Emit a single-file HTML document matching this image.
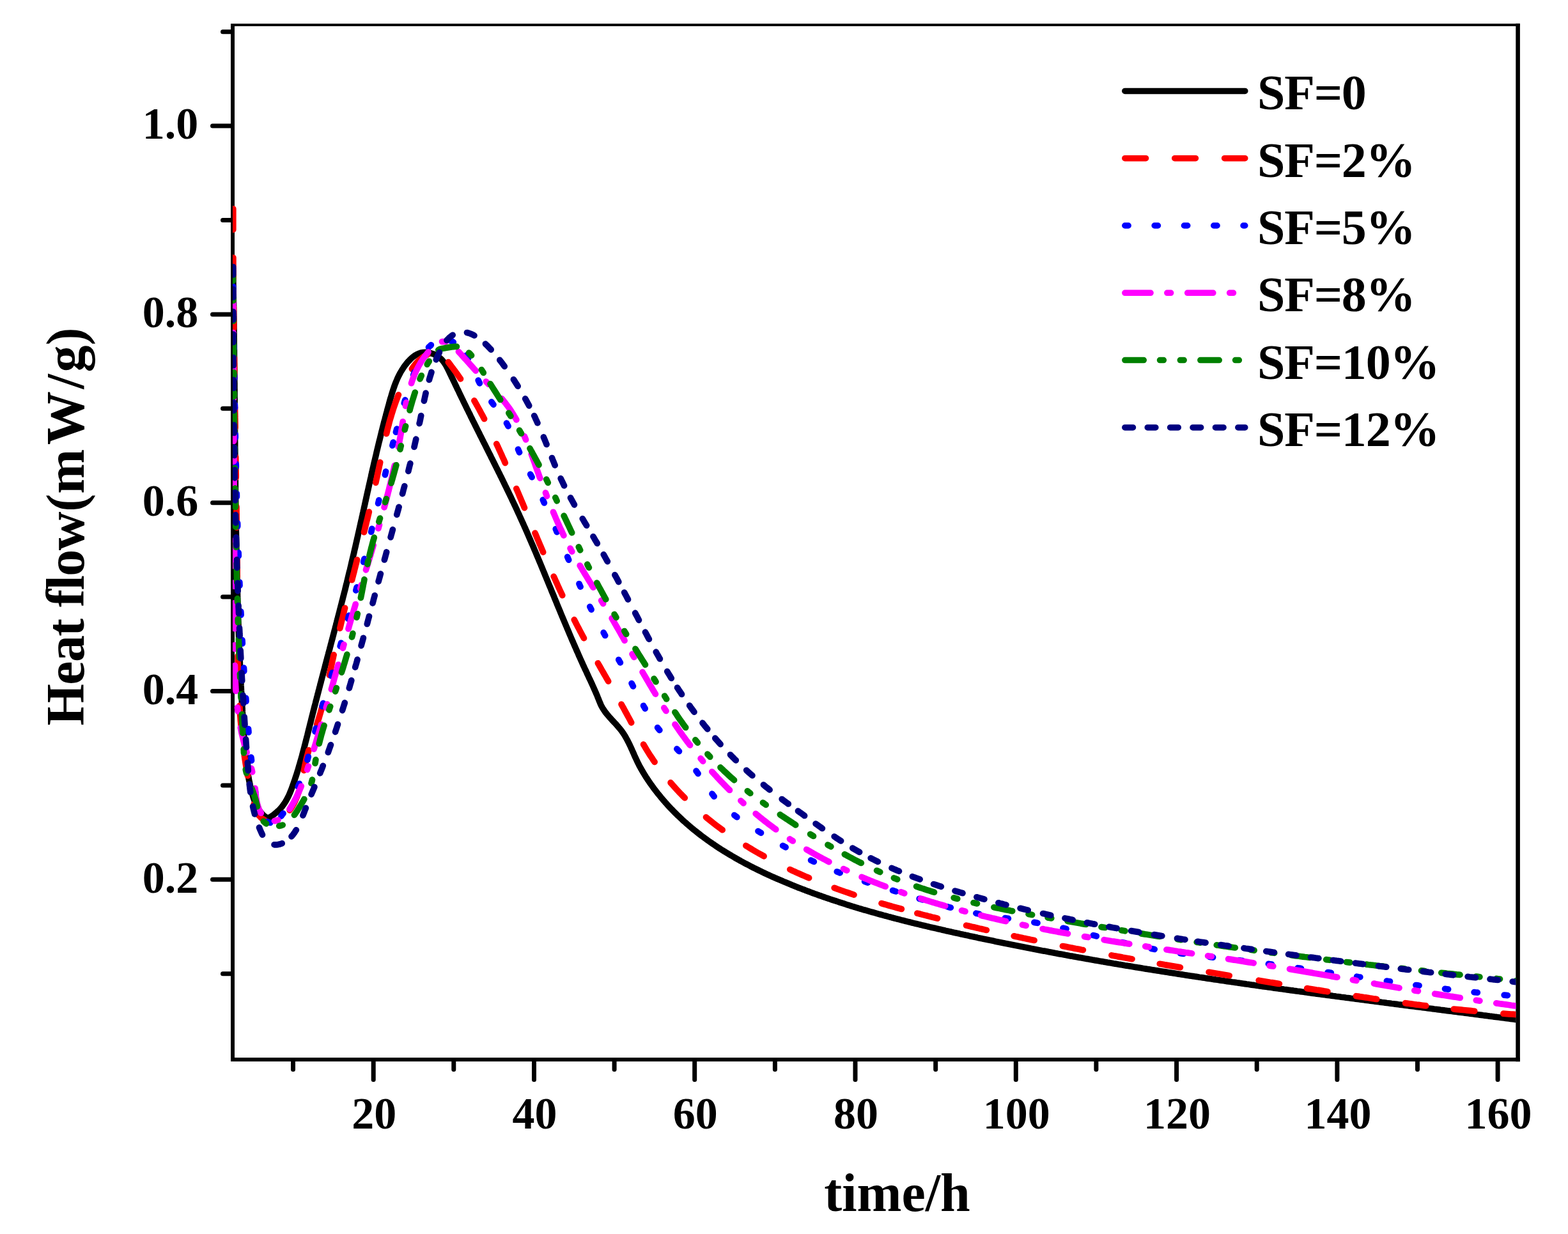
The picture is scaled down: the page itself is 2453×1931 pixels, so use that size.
<!DOCTYPE html>
<html lang="en"><head><meta charset="utf-8"><title>Heat flow vs time</title>
<style>html,body{margin:0;padding:0;background:#fff;overflow:hidden}svg{display:block}</style></head>
<body>
<svg width="2453" height="1931" viewBox="0 0 2453 1931" role="img" aria-label="Heat flow versus time for SF contents 0 to 12 percent">
<rect width="2453" height="1931" fill="#fff"/>
<g stroke="#000" stroke-width="6" fill="none" stroke-linecap="square">
<line x1="364.0" y1="40.0" x2="364.0" y2="1658.0"/>
<line x1="2374.6" y1="40.0" x2="2374.6" y2="1658.0" stroke-width="6.6"/>
<line x1="364.0" y1="1658.0" x2="2374.7" y2="1658.0"/>
</g>
<line x1="361.0" y1="39.0" x2="2377.7" y2="39.0" stroke="#000" stroke-width="4"/>
<g stroke="#000" stroke-width="7" stroke-linecap="round">
<line x1="458.5" y1="1660.0" x2="458.5" y2="1673.5"/>
<line x1="584.2" y1="1660.0" x2="584.2" y2="1689.5"/>
<line x1="709.8" y1="1660.0" x2="709.8" y2="1673.5"/>
<line x1="835.5" y1="1660.0" x2="835.5" y2="1689.5"/>
<line x1="961.1" y1="1660.0" x2="961.1" y2="1673.5"/>
<line x1="1086.7" y1="1660.0" x2="1086.7" y2="1689.5"/>
<line x1="1212.4" y1="1660.0" x2="1212.4" y2="1673.5"/>
<line x1="1338.0" y1="1660.0" x2="1338.0" y2="1689.5"/>
<line x1="1463.7" y1="1660.0" x2="1463.7" y2="1673.5"/>
<line x1="1589.3" y1="1660.0" x2="1589.3" y2="1689.5"/>
<line x1="1714.9" y1="1660.0" x2="1714.9" y2="1673.5"/>
<line x1="1840.6" y1="1660.0" x2="1840.6" y2="1689.5"/>
<line x1="1966.2" y1="1660.0" x2="1966.2" y2="1673.5"/>
<line x1="2091.9" y1="1660.0" x2="2091.9" y2="1689.5"/>
<line x1="2217.5" y1="1660.0" x2="2217.5" y2="1673.5"/>
<line x1="2343.1" y1="1660.0" x2="2343.1" y2="1689.5"/>
<line x1="362.0" y1="1523.7" x2="348.5" y2="1523.7"/>
<line x1="362.0" y1="1376.3" x2="332.5" y2="1376.3"/>
<line x1="362.0" y1="1228.9" x2="348.5" y2="1228.9"/>
<line x1="362.0" y1="1081.5" x2="332.5" y2="1081.5"/>
<line x1="362.0" y1="934.1" x2="348.5" y2="934.1"/>
<line x1="362.0" y1="786.7" x2="332.5" y2="786.7"/>
<line x1="362.0" y1="639.3" x2="348.5" y2="639.3"/>
<line x1="362.0" y1="491.9" x2="332.5" y2="491.9"/>
<line x1="362.0" y1="344.5" x2="348.5" y2="344.5"/>
<line x1="362.0" y1="197.1" x2="332.5" y2="197.1"/>
<line x1="362.0" y1="49.7" x2="348.5" y2="49.7"/>
</g>
<defs><clipPath id="plot"><rect x="364.0" y="39.0" width="2007.5" height="1619.0"/></clipPath></defs>
<g clip-path="url(#plot)" fill="none" stroke-linecap="round" stroke-linejoin="round" stroke-width="9.7">
<path d="M364.6 430.0L364.7 432.6L364.7 435.2L364.8 437.7L364.8 440.3L364.9 442.9L364.9 445.4L365.0 448.0L365.0 450.6L365.0 453.1L365.1 455.7L365.1 458.3L365.2 460.8L365.2 463.4L365.3 466.0L365.3 468.5L365.3 471.1L365.4 473.7L365.4 476.3L365.5 478.8L365.5 481.4L365.5 484.0L365.6 486.5L365.6 489.1L365.7 491.7L365.7 494.2L365.7 496.8L365.8 499.4L365.8 501.9L365.8 504.5L365.9 507.1L365.9 509.6L365.9 512.2L366.0 514.8L366.0 517.4L366.0 519.9L366.1 522.5L366.1 525.1L366.1 527.6L366.2 530.2L366.2 532.8L366.2 535.3L366.2 537.9L366.3 540.5L366.3 543.1L366.3 545.6L366.4 548.2L366.4 550.8L366.4 553.3L366.4 555.9L366.5 558.5L366.5 561.1L366.5 563.6L366.5 566.2L366.6 568.8L366.6 571.3L366.6 573.9L366.6 576.5L366.7 579.1L366.7 581.6L366.7 584.2L366.7 586.8L366.8 589.3L366.8 591.9L366.8 594.5L366.8 597.1L366.9 599.6L366.9 602.2L366.9 604.8L366.9 607.3L367.0 609.9L367.0 612.5L367.0 615.1L367.0 617.6L367.0 620.2L367.1 622.8L367.1 625.4L367.1 627.9L367.1 630.5L367.2 633.1L367.2 635.6L367.2 638.2L367.2 640.8L367.2 643.4L367.3 645.9L367.3 648.5L367.3 651.1L367.3 653.7L367.4 656.2L367.4 658.8L367.4 661.4L367.4 664.0L367.4 666.5L367.5 669.1L367.5 671.7L367.5 674.2L367.5 676.8L367.6 679.4L367.6 682.0L367.6 684.5L367.6 687.1L367.6 689.7L367.7 692.3L367.7 694.8L367.7 697.4L367.7 700.0L367.8 702.6L367.8 705.1L367.8 707.7L367.8 710.3L367.9 712.9L367.9 715.4L367.9 718.0L367.9 720.6L368.0 723.1L368.0 725.7L368.0 728.3L368.0 730.9L368.1 733.4L368.1 736.0L368.1 738.6L368.1 741.2L368.2 743.7L368.2 746.3L368.2 748.9L368.3 751.5L368.3 754.0L368.3 756.6L368.3 759.2L368.4 761.8L368.4 764.3L368.4 766.9L368.5 769.5L368.5 772.1L368.5 774.6L368.6 777.2L368.6 779.8L368.6 782.3L368.7 784.9L368.7 787.5L368.7 790.1L368.8 792.6L368.8 795.2L368.8 797.8L368.9 800.4L368.9 802.9L368.9 805.5L369.0 808.1L369.0 810.7L369.1 813.2L369.1 815.8L369.1 818.4L369.2 821.0L369.2 823.5L369.3 826.1L369.3 828.7L369.3 831.2L369.4 833.8L369.4 836.4L369.5 839.0L369.5 841.5L369.6 844.1L369.6 846.7L369.7 849.3L369.7 851.8L369.8 854.4L369.8 857.0L369.9 859.6L369.9 862.1L370.0 864.7L370.0 867.3L370.1 869.8L370.1 872.4L370.2 875.0L370.2 877.6L370.3 880.1L370.3 882.7L370.4 885.3L370.4 887.8L370.5 890.4L370.6 893.0L370.6 895.6L370.7 898.1L370.7 900.7L370.8 903.3L370.9 905.9L370.9 908.4L371.0 911.0L371.1 913.6L371.1 916.1L371.2 918.7L371.3 921.3L371.3 923.9L371.4 926.4L371.5 929.0L371.5 931.6L371.6 934.1L371.7 936.7L371.7 939.3L371.8 941.8L371.9 944.4L372.0 947.0L372.1 949.6L372.1 952.1L372.2 954.7L372.3 957.3L372.4 959.8L372.5 962.4L372.5 965.0L372.6 967.6L372.7 970.1L372.8 972.7L372.9 975.3L373.0 977.8L373.1 980.4L373.1 983.0L373.2 985.5L373.3 988.1L373.4 990.7L373.5 993.2L373.6 995.8L373.7 998.4L373.8 1000.9L373.9 1003.5L374.0 1006.1L374.1 1008.7L374.2 1011.2L374.3 1013.8L374.4 1016.4L374.5 1018.9L374.6 1021.5L374.7 1024.1L374.8 1026.6L375.0 1029.2L375.1 1031.8L375.2 1034.3L375.3 1036.9L375.4 1039.5L375.5 1042.0L375.6 1044.6L375.8 1047.2L375.9 1049.7L376.0 1052.3L376.1 1054.9L376.3 1057.4L376.4 1060.0L376.5 1062.6L376.6 1065.1L376.8 1067.7L376.9 1070.2L377.0 1072.8L377.2 1075.4L377.3 1077.9L377.4 1080.5L377.6 1083.1L377.7 1085.6L377.8 1088.2L378.0 1090.8L378.1 1093.3L378.3 1095.9L378.4 1098.5L378.6 1101.0L378.7 1103.6L378.9 1106.1L379.0 1108.7L379.2 1111.3L379.3 1113.8L379.5 1116.4L379.6 1119.0L379.8 1121.5L380.0 1124.1L380.1 1126.6L380.3 1129.2L380.4 1131.8L380.6 1134.3L380.8 1136.9L380.9 1139.4L381.1 1142.0L381.3 1144.6L381.5 1147.1L381.6 1149.7L381.8 1152.2L382.0 1154.8L382.2 1157.4L382.4 1159.9L382.5 1162.5L382.7 1165.0L382.9 1167.6L383.1 1170.2L383.4 1172.7L383.6 1175.3L383.8 1177.8L384.0 1180.4L384.3 1182.9L384.6 1185.5L384.8 1188.1L385.1 1190.6L385.4 1193.2L385.7 1195.7L386.0 1198.3L386.4 1200.8L386.7 1203.4L387.1 1205.9L387.5 1208.5L387.9 1211.0L388.3 1213.6L388.8 1216.1L389.2 1218.7L389.7 1221.2L390.2 1223.7L390.8 1226.3L391.3 1228.8L391.9 1231.4L392.5 1233.9L393.1 1236.4L393.8 1239.0L394.5 1241.5L395.2 1244.0L395.9 1246.5L396.7 1249.0L397.6 1251.5L398.5 1254.0L399.5 1256.4L400.5 1258.7L401.6 1261.1L402.8 1263.3L404.1 1265.6L405.5 1267.7L407.0 1269.8L408.5 1271.8L410.2 1273.8L412.0 1275.6L414.0 1277.3L416.0 1278.8L418.0 1279.6L420.2 1279.7L422.3 1278.9L424.4 1277.6L426.6 1276.0L428.8 1274.3L431.0 1272.5L433.1 1270.7L435.1 1268.9L437.1 1267.0L438.9 1265.1L440.6 1263.1L442.2 1261.0L443.7 1258.9L445.2 1256.8L446.5 1254.7L447.8 1252.5L449.0 1250.3L450.2 1248.0L451.3 1245.8L452.4 1243.5L453.4 1241.1L454.4 1238.8L455.3 1236.5L456.2 1234.1L457.1 1231.7L458.0 1229.3L458.8 1226.9L459.7 1224.5L460.5 1222.1L461.3 1219.7L462.1 1217.3L462.9 1214.9L463.7 1212.5L464.5 1210.0L465.2 1207.6L466.0 1205.2L466.7 1202.7L467.4 1200.3L468.2 1197.8L468.9 1195.4L469.6 1192.9L470.3 1190.4L471.0 1188.0L471.7 1185.5L472.4 1183.0L473.0 1180.6L473.7 1178.1L474.4 1175.6L475.0 1173.1L475.7 1170.6L476.3 1168.1L477.0 1165.6L477.6 1163.1L478.2 1160.6L478.9 1158.1L479.5 1155.7L480.1 1153.2L480.8 1150.7L481.4 1148.2L482.0 1145.7L482.6 1143.1L483.3 1140.6L483.9 1138.1L484.5 1135.6L485.1 1133.1L485.8 1130.6L486.4 1128.1L487.0 1125.6L487.6 1123.1L488.3 1120.6L488.9 1118.1L489.5 1115.6L490.2 1113.1L490.8 1110.6L491.4 1108.1L492.1 1105.6L492.7 1103.2L493.4 1100.7L494.0 1098.2L494.6 1095.7L495.3 1093.2L495.9 1090.7L496.6 1088.2L497.2 1085.7L497.9 1083.2L498.5 1080.7L499.2 1078.2L499.8 1075.7L500.5 1073.2L501.1 1070.7L501.8 1068.3L502.4 1065.8L503.1 1063.3L503.7 1060.8L504.4 1058.3L505.1 1055.8L505.7 1053.3L506.4 1050.8L507.0 1048.3L507.7 1045.9L508.3 1043.4L509.0 1040.9L509.6 1038.4L510.3 1035.9L511.0 1033.4L511.6 1030.9L512.3 1028.4L512.9 1026.0L513.6 1023.5L514.2 1021.0L514.9 1018.5L515.6 1016.0L516.2 1013.5L516.9 1011.0L517.5 1008.5L518.2 1006.1L518.8 1003.6L519.5 1001.1L520.2 998.6L520.8 996.1L521.5 993.6L522.1 991.1L522.8 988.7L523.4 986.2L524.1 983.7L524.7 981.2L525.4 978.7L526.0 976.2L526.7 973.7L527.3 971.3L528.0 968.8L528.6 966.3L529.3 963.8L529.9 961.3L530.6 958.8L531.2 956.3L531.8 953.8L532.5 951.4L533.1 948.9L533.8 946.4L534.4 943.9L535.0 941.4L535.7 938.9L536.3 936.4L536.9 933.9L537.6 931.4L538.2 928.9L538.8 926.5L539.5 924.0L540.1 921.5L540.7 919.0L541.3 916.5L541.9 914.0L542.6 911.5L543.2 909.0L543.8 906.5L544.4 904.0L545.0 901.5L545.6 899.0L546.2 896.5L546.8 894.0L547.5 891.5L548.1 889.0L548.7 886.5L549.3 884.0L549.8 881.5L550.4 879.0L551.0 876.5L551.6 874.0L552.2 871.5L552.8 869.0L553.4 866.5L554.0 864.0L554.5 861.5L555.1 859.0L555.7 856.5L556.3 854.0L556.8 851.5L557.4 849.0L558.0 846.5L558.5 844.0L559.1 841.5L559.7 839.0L560.2 836.4L560.8 833.9L561.4 831.4L561.9 828.9L562.5 826.4L563.1 823.9L563.6 821.4L564.2 818.9L564.7 816.4L565.3 813.9L565.9 811.3L566.4 808.8L567.0 806.3L567.5 803.8L568.1 801.3L568.6 798.8L569.2 796.3L569.7 793.8L570.3 791.3L570.9 788.7L571.4 786.2L572.0 783.7L572.5 781.2L573.1 778.7L573.6 776.2L574.2 773.7L574.7 771.2L575.3 768.6L575.9 766.1L576.4 763.6L577.0 761.1L577.5 758.6L578.1 756.1L578.7 753.6L579.2 751.1L579.8 748.6L580.4 746.0L580.9 743.5L581.5 741.0L582.1 738.5L582.6 736.0L583.2 733.5L583.8 731.0L584.4 728.5L584.9 726.0L585.5 723.5L586.1 721.0L586.7 718.5L587.3 715.9L587.9 713.4L588.5 710.9L589.0 708.4L589.6 705.9L590.2 703.4L590.8 700.9L591.4 698.4L592.0 695.9L592.6 693.4L593.2 690.9L593.9 688.4L594.5 685.9L595.1 683.4L595.7 680.9L596.3 678.4L596.9 675.9L597.6 673.4L598.2 670.9L598.8 668.4L599.5 665.9L600.1 663.4L600.8 660.9L601.4 658.4L602.1 656.0L602.7 653.5L603.4 651.0L604.0 648.5L604.7 646.0L605.4 643.5L606.0 641.0L606.7 638.5L607.4 636.0L608.1 633.6L608.8 631.1L609.4 628.6L610.1 626.1L610.8 623.6L611.6 621.2L612.3 618.7L613.0 616.2L613.8 613.8L614.6 611.3L615.4 608.9L616.2 606.5L617.1 604.0L617.9 601.6L618.9 599.3L619.8 596.9L620.8 594.6L621.8 592.2L622.9 589.9L624.0 587.6L625.2 585.4L626.4 583.1L627.7 580.9L629.0 578.7L630.4 576.6L631.8 574.4L633.3 572.3L634.9 570.3L636.5 568.2L638.2 566.2L640.0 564.3L641.8 562.4L643.7 560.6L645.7 558.9L647.8 557.3L649.9 555.9L652.1 554.6L654.3 553.6L656.7 552.7L659.1 552.0L661.5 551.5L664.1 551.3L666.6 551.4L669.2 551.6L671.8 552.1L674.4 552.8L676.9 553.6L679.4 554.6L681.9 555.9L684.2 557.2L686.4 558.7L688.5 560.4L690.4 562.1L692.2 564.0L693.8 566.0L695.3 568.1L696.7 570.2L698.0 572.4L699.2 574.7L700.3 576.9L701.5 579.2L702.6 581.6L703.7 583.9L704.8 586.2L705.9 588.5L707.0 590.8L708.2 593.1L709.3 595.4L710.4 597.7L711.5 600.1L712.6 602.4L713.7 604.7L714.8 607.0L715.9 609.3L717.1 611.6L718.2 614.0L719.3 616.3L720.4 618.6L721.5 620.9L722.6 623.2L723.8 625.5L724.9 627.9L726.0 630.2L727.1 632.5L728.3 634.8L729.4 637.1L730.5 639.4L731.7 641.7L732.8 644.0L733.9 646.3L735.1 648.6L736.2 651.0L737.3 653.3L738.5 655.6L739.6 657.9L740.8 660.2L741.9 662.5L743.1 664.8L744.2 667.1L745.4 669.4L746.5 671.7L747.7 674.0L748.8 676.3L750.0 678.6L751.1 680.9L752.3 683.2L753.4 685.5L754.6 687.8L755.7 690.1L756.9 692.4L758.1 694.7L759.2 697.0L760.4 699.3L761.5 701.6L762.7 703.9L763.8 706.2L765.0 708.5L766.1 710.8L767.3 713.1L768.4 715.4L769.6 717.7L770.7 720.0L771.9 722.3L773.0 724.6L774.2 726.9L775.3 729.2L776.5 731.5L777.6 733.8L778.8 736.1L779.9 738.4L781.1 740.7L782.2 743.0L783.3 745.3L784.5 747.6L785.6 749.9L786.7 752.2L787.9 754.6L789.0 756.9L790.1 759.2L791.3 761.5L792.4 763.8L793.5 766.1L794.6 768.4L795.7 770.7L796.9 773.1L798.0 775.4L799.1 777.7L800.2 780.0L801.3 782.3L802.4 784.7L803.5 787.0L804.6 789.3L805.7 791.6L806.8 794.0L807.9 796.3L808.9 798.6L810.0 801.0L811.1 803.3L812.2 805.6L813.2 808.0L814.3 810.3L815.4 812.7L816.4 815.0L817.5 817.3L818.5 819.7L819.6 822.0L820.6 824.4L821.7 826.7L822.7 829.1L823.8 831.4L824.8 833.8L825.8 836.1L826.8 838.5L827.9 840.9L828.9 843.2L829.9 845.6L830.9 847.9L831.9 850.3L833.0 852.7L834.0 855.0L835.0 857.4L836.0 859.8L837.0 862.1L838.0 864.5L839.0 866.9L840.0 869.2L841.0 871.6L842.0 874.0L843.0 876.4L844.0 878.7L845.0 881.1L846.0 883.5L846.9 885.8L847.9 888.2L848.9 890.6L849.9 893.0L850.9 895.4L851.9 897.7L852.8 900.1L853.8 902.5L854.8 904.9L855.8 907.2L856.8 909.6L857.7 912.0L858.7 914.4L859.7 916.8L860.7 919.1L861.7 921.5L862.6 923.9L863.6 926.3L864.6 928.7L865.6 931.0L866.6 933.4L867.5 935.8L868.5 938.2L869.5 940.6L870.5 942.9L871.4 945.3L872.4 947.7L873.4 950.1L874.4 952.4L875.4 954.8L876.4 957.2L877.3 959.6L878.3 961.9L879.3 964.3L880.3 966.7L881.3 969.1L882.3 971.4L883.3 973.8L884.3 976.2L885.3 978.6L886.3 980.9L887.3 983.3L888.3 985.7L889.3 988.0L890.3 990.4L891.3 992.8L892.3 995.1L893.3 997.5L894.3 999.9L895.3 1002.2L896.4 1004.6L897.4 1007.0L898.4 1009.3L899.4 1011.7L900.5 1014.0L901.5 1016.4L902.5 1018.7L903.6 1021.1L904.6 1023.4L905.6 1025.8L906.7 1028.1L907.7 1030.5L908.8 1032.8L909.9 1035.2L910.9 1037.5L912.0 1039.9L913.0 1042.2L914.1 1044.5L915.2 1046.9L916.3 1049.2L917.4 1051.5L918.4 1053.9L919.5 1056.2L920.6 1058.5L921.7 1060.9L922.8 1063.2L923.9 1065.5L925.0 1067.8L926.0 1070.2L927.1 1072.5L928.2 1074.9L929.2 1077.2L930.2 1079.5L931.3 1081.9L932.3 1084.2L933.3 1086.6L934.3 1088.9L935.2 1091.3L936.2 1093.7L937.1 1096.0L938.1 1098.4L939.1 1100.7L940.1 1103.1L941.2 1105.3L942.4 1107.5L943.8 1109.7L945.2 1111.8L946.6 1113.9L948.2 1115.9L949.8 1117.9L951.5 1119.9L953.2 1121.9L954.9 1123.8L956.7 1125.8L958.4 1127.7L960.2 1129.6L962.0 1131.5L963.8 1133.4L965.5 1135.4L967.2 1137.3L968.9 1139.3L970.5 1141.3L972.1 1143.3L973.6 1145.4L975.1 1147.5L976.5 1149.6L977.8 1151.8L979.1 1154.0L980.3 1156.2L981.5 1158.4L982.7 1160.7L983.8 1162.9L984.9 1165.2L986.0 1167.5L987.1 1169.8L988.1 1172.2L989.2 1174.5L990.2 1176.9L991.3 1179.2L992.3 1181.6L993.3 1183.9L994.4 1186.2L995.5 1188.6L996.6 1190.9L997.7 1193.3L998.9 1195.6L1000.1 1197.9L1001.3 1200.2L1002.6 1202.5L1003.9 1204.7L1005.2 1207.0L1006.5 1209.2L1007.9 1211.5L1009.2 1213.7L1010.6 1215.9L1012.1 1218.1L1013.5 1220.3L1015.0 1222.5L1016.4 1224.6L1017.9 1226.7L1019.5 1228.9L1021.0 1231.0L1022.5 1233.1L1024.1 1235.2L1025.7 1237.2L1027.2 1239.3L1028.8 1241.3L1030.5 1243.3L1032.1 1245.3L1033.7 1247.3L1035.4 1249.3L1037.0 1251.3L1038.7 1253.2L1040.4 1255.2L1042.1 1257.1L1043.8 1259.0L1045.5 1260.9L1047.3 1262.8L1049.0 1264.6L1050.8 1266.5L1052.6 1268.3L1054.4 1270.2L1056.2 1272.0L1058.0 1273.8L1059.8 1275.6L1061.6 1277.3L1063.5 1279.1L1065.3 1280.8L1067.2 1282.6L1069.1 1284.3L1071.0 1286.0L1072.9 1287.7L1074.8 1289.4L1076.7 1291.0L1078.6 1292.7L1080.6 1294.3L1082.5 1296.0L1084.5 1297.6L1086.5 1299.2L1088.5 1300.8L1090.5 1302.4L1092.5 1304.0L1094.5 1305.5L1096.5 1307.1L1098.5 1308.6L1100.6 1310.1L1102.6 1311.6L1104.7 1313.1L1106.7 1314.6L1108.8 1316.1L1110.9 1317.6L1113.0 1319.0L1115.1 1320.5L1117.2 1321.9L1119.3 1323.4L1121.5 1324.8L1123.6 1326.2L1125.7 1327.6L1127.9 1329.0L1130.0 1330.3L1132.2 1331.7L1134.4 1333.0L1136.6 1334.4L1138.7 1335.7L1140.9 1337.0L1143.1 1338.3L1145.4 1339.6L1147.6 1340.9L1149.8 1342.2L1152.0 1343.5L1154.3 1344.8L1156.5 1346.0L1158.7 1347.3L1161.0 1348.5L1163.3 1349.7L1165.5 1350.9L1167.8 1352.1L1170.1 1353.3L1172.4 1354.5L1174.6 1355.7L1176.9 1356.9L1179.2 1358.1L1181.5 1359.2L1183.9 1360.4L1186.2 1361.5L1188.5 1362.6L1190.8 1363.7L1193.1 1364.9L1195.5 1366.0L1197.8 1367.1L1200.1 1368.2L1202.5 1369.2L1204.8 1370.3L1207.2 1371.4L1209.6 1372.4L1211.9 1373.5L1214.3 1374.5L1216.6 1375.6L1219.0 1376.6L1221.4 1377.6L1223.8 1378.6L1226.1 1379.6L1228.5 1380.6L1230.9 1381.6L1233.3 1382.6L1235.7 1383.6L1238.1 1384.6L1240.5 1385.5L1242.9 1386.5L1245.3 1387.5L1247.7 1388.4L1250.1 1389.4L1252.5 1390.3L1254.9 1391.2L1257.3 1392.1L1259.7 1393.1L1262.1 1394.0L1264.6 1394.9L1267.0 1395.8L1269.4 1396.7L1271.8 1397.6L1274.2 1398.5L1276.7 1399.3L1279.1 1400.2L1281.5 1401.1L1283.9 1401.9L1286.4 1402.8L1288.8 1403.6L1291.2 1404.5L1293.7 1405.3L1296.1 1406.2L1298.6 1407.0L1301.0 1407.8L1303.4 1408.6L1305.9 1409.4L1308.3 1410.2L1310.8 1411.0L1313.2 1411.8L1315.7 1412.6L1318.1 1413.4L1320.6 1414.2L1323.0 1415.0L1325.5 1415.8L1327.9 1416.5L1330.4 1417.3L1332.8 1418.1L1335.3 1418.8L1337.8 1419.6L1340.2 1420.3L1342.7 1421.1L1345.1 1421.8L1347.6 1422.5L1350.1 1423.3L1352.5 1424.0L1355.0 1424.7L1357.5 1425.4L1359.9 1426.1L1362.4 1426.8L1364.9 1427.5L1367.4 1428.2L1369.8 1428.9L1372.3 1429.6L1374.8 1430.3L1377.3 1431.0L1379.8 1431.7L1382.2 1432.4L1384.7 1433.0L1387.2 1433.7L1389.7 1434.4L1392.2 1435.0L1394.7 1435.7L1397.1 1436.3L1399.6 1437.0L1402.1 1437.6L1404.6 1438.3L1407.1 1438.9L1409.6 1439.6L1412.1 1440.2L1414.6 1440.8L1417.1 1441.5L1419.6 1442.1L1422.1 1442.7L1424.5 1443.3L1427.0 1444.0L1429.5 1444.6L1432.0 1445.2L1434.5 1445.8L1437.0 1446.4L1439.5 1447.0L1442.0 1447.6L1444.5 1448.2L1447.0 1448.8L1449.5 1449.4L1452.0 1450.0L1454.5 1450.6L1457.0 1451.2L1459.6 1451.8L1462.1 1452.3L1464.6 1452.9L1467.1 1453.5L1469.6 1454.1L1472.1 1454.6L1474.6 1455.2L1477.1 1455.8L1479.6 1456.4L1482.1 1456.9L1484.6 1457.5L1487.1 1458.0L1489.6 1458.6L1492.2 1459.2L1494.7 1459.7L1497.2 1460.3L1499.7 1460.8L1502.2 1461.4L1504.7 1461.9L1507.2 1462.5L1509.7 1463.0L1512.2 1463.6L1514.8 1464.1L1517.3 1464.7L1519.8 1465.2L1522.3 1465.7L1524.8 1466.3L1527.3 1466.8L1529.8 1467.4L1532.4 1467.9L1534.9 1468.4L1537.4 1469.0L1539.9 1469.5L1542.4 1470.0L1544.9 1470.5L1547.5 1471.1L1550.0 1471.6L1552.5 1472.1L1555.0 1472.6L1557.5 1473.2L1560.0 1473.7L1562.6 1474.2L1565.1 1474.7L1567.6 1475.2L1570.1 1475.7L1572.6 1476.3L1575.2 1476.8L1577.7 1477.3L1580.2 1477.8L1582.7 1478.3L1585.2 1478.8L1587.8 1479.3L1590.3 1479.8L1592.8 1480.3L1595.3 1480.8L1597.8 1481.3L1600.4 1481.8L1602.9 1482.3L1605.4 1482.8L1607.9 1483.3L1610.5 1483.8L1613.0 1484.3L1615.5 1484.7L1618.0 1485.2L1620.6 1485.7L1623.1 1486.2L1625.6 1486.7L1628.1 1487.2L1630.6 1487.7L1633.2 1488.1L1635.7 1488.6L1638.2 1489.1L1640.8 1489.6L1643.3 1490.0L1645.8 1490.5L1648.3 1491.0L1650.9 1491.5L1653.4 1491.9L1655.9 1492.4L1658.4 1492.9L1661.0 1493.3L1663.5 1493.8L1666.0 1494.3L1668.6 1494.7L1671.1 1495.2L1673.6 1495.7L1676.1 1496.1L1678.7 1496.6L1681.2 1497.0L1683.7 1497.5L1686.3 1497.9L1688.8 1498.4L1691.3 1498.8L1693.8 1499.3L1696.4 1499.8L1698.9 1500.2L1701.4 1500.6L1704.0 1501.1L1706.5 1501.5L1709.0 1502.0L1711.6 1502.4L1714.1 1502.9L1716.6 1503.3L1719.2 1503.8L1721.7 1504.2L1724.2 1504.6L1726.8 1505.1L1729.3 1505.5L1731.8 1505.9L1734.4 1506.4L1736.9 1506.8L1739.4 1507.2L1742.0 1507.7L1744.5 1508.1L1747.0 1508.5L1749.6 1509.0L1752.1 1509.4L1754.6 1509.8L1757.2 1510.2L1759.7 1510.7L1762.3 1511.1L1764.8 1511.5L1767.3 1511.9L1769.9 1512.3L1772.4 1512.8L1774.9 1513.2L1777.5 1513.6L1780.0 1514.0L1782.5 1514.4L1785.1 1514.8L1787.6 1515.3L1790.2 1515.7L1792.7 1516.1L1795.2 1516.5L1797.8 1516.9L1800.3 1517.3L1802.9 1517.7L1805.4 1518.1L1807.9 1518.5L1810.5 1518.9L1813.0 1519.3L1815.5 1519.7L1818.1 1520.1L1820.6 1520.5L1823.2 1520.9L1825.7 1521.3L1828.2 1521.7L1830.8 1522.1L1833.3 1522.5L1835.9 1522.9L1838.4 1523.3L1841.0 1523.7L1843.5 1524.1L1846.0 1524.5L1848.6 1524.9L1851.1 1525.3L1853.7 1525.7L1856.2 1526.1L1858.7 1526.5L1861.3 1526.9L1863.8 1527.2L1866.4 1527.6L1868.9 1528.0L1871.5 1528.4L1874.0 1528.8L1876.5 1529.2L1879.1 1529.5L1881.6 1529.9L1884.2 1530.3L1886.7 1530.7L1889.3 1531.1L1891.8 1531.4L1894.3 1531.8L1896.9 1532.2L1899.4 1532.6L1902.0 1533.0L1904.5 1533.3L1907.1 1533.7L1909.6 1534.1L1912.2 1534.5L1914.7 1534.8L1917.2 1535.2L1919.8 1535.6L1922.3 1535.9L1924.9 1536.3L1927.4 1536.7L1930.0 1537.0L1932.5 1537.4L1935.1 1537.8L1937.6 1538.1L1940.2 1538.5L1942.7 1538.9L1945.2 1539.2L1947.8 1539.6L1950.3 1540.0L1952.9 1540.3L1955.4 1540.7L1958.0 1541.1L1960.5 1541.4L1963.1 1541.8L1965.6 1542.1L1968.2 1542.5L1970.7 1542.9L1973.3 1543.2L1975.8 1543.6L1978.4 1543.9L1980.9 1544.3L1983.5 1544.6L1986.0 1545.0L1988.5 1545.3L1991.1 1545.7L1993.6 1546.1L1996.2 1546.4L1998.7 1546.8L2001.3 1547.1L2003.8 1547.5L2006.4 1547.8L2008.9 1548.2L2011.5 1548.5L2014.0 1548.9L2016.6 1549.2L2019.1 1549.6L2021.7 1549.9L2024.2 1550.3L2026.8 1550.6L2029.3 1551.0L2031.9 1551.3L2034.4 1551.6L2037.0 1552.0L2039.5 1552.3L2042.1 1552.7L2044.6 1553.0L2047.2 1553.4L2049.7 1553.7L2052.3 1554.1L2054.8 1554.4L2057.4 1554.7L2059.9 1555.1L2062.5 1555.4L2065.0 1555.8L2067.6 1556.1L2070.1 1556.4L2072.7 1556.8L2075.2 1557.1L2077.8 1557.5L2080.3 1557.8L2082.9 1558.1L2085.4 1558.5L2088.0 1558.8L2090.5 1559.2L2093.1 1559.5L2095.6 1559.8L2098.2 1560.2L2100.7 1560.5L2103.3 1560.8L2105.8 1561.2L2108.4 1561.5L2110.9 1561.8L2113.5 1562.2L2116.0 1562.5L2118.6 1562.8L2121.1 1563.2L2123.7 1563.5L2126.2 1563.8L2128.8 1564.2L2131.3 1564.5L2133.9 1564.8L2136.4 1565.2L2139.0 1565.5L2141.5 1565.8L2144.1 1566.2L2146.6 1566.5L2149.2 1566.8L2151.7 1567.2L2154.3 1567.5L2156.8 1567.8L2159.4 1568.1L2161.9 1568.5L2164.5 1568.8L2167.0 1569.1L2169.6 1569.5L2172.1 1569.8L2174.7 1570.1L2177.2 1570.5L2179.8 1570.8L2182.3 1571.1L2184.9 1571.4L2187.5 1571.8L2190.0 1572.1L2192.6 1572.4L2195.1 1572.7L2197.7 1573.1L2200.2 1573.4L2202.8 1573.7L2205.3 1574.1L2207.9 1574.4L2210.4 1574.7L2213.0 1575.0L2215.5 1575.4L2218.1 1575.7L2220.6 1576.0L2223.2 1576.3L2225.7 1576.7L2228.3 1577.0L2230.8 1577.3L2233.4 1577.7L2235.9 1578.0L2238.5 1578.3L2241.0 1578.6L2243.6 1579.0L2246.1 1579.3L2248.7 1579.6L2251.2 1579.9L2253.8 1580.3L2256.3 1580.6L2258.9 1580.9L2261.4 1581.2L2264.0 1581.6L2266.5 1581.9L2269.1 1582.2L2271.6 1582.5L2274.2 1582.9L2276.7 1583.2L2279.3 1583.5L2281.8 1583.9L2284.4 1584.2L2286.9 1584.5L2289.5 1584.8L2292.0 1585.2L2294.6 1585.5L2297.1 1585.8L2299.7 1586.1L2302.2 1586.5L2304.8 1586.8L2307.3 1587.1L2309.9 1587.5L2312.4 1587.8L2315.0 1588.1L2317.5 1588.4L2320.1 1588.8L2322.6 1589.1L2325.2 1589.4L2327.7 1589.7L2330.3 1590.1L2332.8 1590.4L2335.4 1590.7L2337.9 1591.1L2340.5 1591.4L2343.0 1591.7L2345.6 1592.0L2348.1 1592.4L2350.7 1592.7L2353.2 1593.0L2355.8 1593.4L2358.3 1593.7L2360.9 1594.0L2363.4 1594.4L2366.0 1594.7L2368.5 1595.0L2371.1 1595.4L2373.6 1595.7L2376.2 1596.0L2378.7 1596.3L2380.0 1596.5" stroke="#000000"/>
<path d="M364.8 326.8L364.8 329.8L364.8 332.8L364.8 335.8L364.8 338.8L364.8 341.8L364.8 344.8L364.8 347.8L364.8 350.8L364.8 353.8L364.8 356.8L364.8 359.4M364.9 403.3L364.9 406.3L364.9 409.3L364.9 412.3L364.9 415.3L364.9 418.3L364.9 421.3L365.0 424.3L365.0 427.3L365.0 430.3L365.0 433.3L365.0 435.9M365.4 481.2L365.4 484.2L365.5 487.2L365.5 490.2L365.5 493.2L365.6 496.2L365.6 499.2L365.6 502.2L365.7 505.2L365.7 508.2L365.7 511.2L365.7 513.8M366.3 559.1L366.4 562.1L366.4 565.1L366.4 568.1L366.5 571.1L366.5 574.1L366.6 577.1L366.6 580.1L366.7 583.1L366.7 586.1L366.8 589.1L366.8 591.7M367.5 637.0L367.5 640.0L367.6 643.0L367.6 646.0L367.7 649.0L367.7 652.0L367.8 655.0L367.8 658.0L367.9 661.0L367.9 664.0L368.0 667.0L368.0 669.6M368.7 714.9L368.8 717.9L368.8 720.9L368.9 723.9L368.9 726.9L369.0 729.9L369.0 732.9L369.1 735.9L369.1 738.9L369.2 741.9L369.2 744.9L369.2 747.5M369.9 792.8L370.0 795.8L370.0 798.8L370.0 801.8L370.1 804.8L370.1 807.8L370.2 810.8L370.2 813.8L370.2 816.8L370.3 819.8L370.3 822.8L370.4 825.4M370.9 870.7L370.9 873.7L370.9 876.7L371.0 879.7L371.0 882.7L371.0 885.7L371.1 888.7L371.1 891.7L371.1 894.7L371.1 897.7L371.2 900.7L371.2 903.3M371.5 948.6L371.5 951.6L371.5 954.6L371.5 957.6L371.6 960.6L371.6 963.6L371.6 966.6L371.6 969.6L371.6 972.6L371.6 975.6L371.6 978.6L371.6 981.2M372.1 1026.5L372.1 1029.5L372.2 1032.5L372.2 1035.5L372.3 1038.5L372.3 1041.5L372.4 1044.5L372.5 1047.5L372.5 1050.5L372.6 1053.5L372.7 1056.5L372.8 1059.1M374.8 1104.3L374.9 1107.3L375.1 1110.3L375.3 1113.3L375.5 1116.3L375.7 1119.3L376.0 1122.3L376.2 1125.3L376.4 1128.3L376.7 1131.3L376.9 1134.3L377.2 1136.8M382.3 1181.8L382.7 1184.8L383.1 1187.8L383.6 1190.8L384.0 1193.7L384.5 1196.7L385.0 1199.6L385.5 1202.6L386.0 1205.6L386.5 1208.5L387.0 1211.5L387.5 1214.0M397.2 1258.3L398.0 1261.1L398.9 1264.0L399.9 1266.8L401.1 1269.6L402.5 1272.2L404.1 1274.8L406.0 1277.1L408.0 1279.3L410.4 1281.2L412.9 1282.8L415.2 1284.1M453.2 1267.9L454.9 1265.5L456.6 1263.0L458.1 1260.4L459.6 1257.8L461.0 1255.1L462.2 1252.4L463.4 1249.6L464.6 1246.9L465.6 1244.0L466.6 1241.2L467.4 1238.7M475.4 1205.6L476.0 1202.7L476.6 1199.7L477.2 1196.8L477.9 1193.9L478.5 1190.9L479.2 1188.0L479.9 1185.1L480.7 1182.2L481.5 1179.3L482.3 1176.4L483.0 1173.9M495.8 1133.5L496.7 1130.6L497.6 1127.7L498.5 1124.9L499.4 1122.0L500.2 1119.1L501.1 1116.2L501.9 1113.4L502.7 1110.5L503.5 1107.6L504.2 1104.7L504.9 1102.1M515.3 1056.6L515.9 1053.6L516.5 1050.7L517.1 1047.8L517.8 1044.8L518.4 1041.9L519.0 1039.0L519.7 1036.0L520.3 1033.1L521.0 1030.2L521.6 1027.2L522.2 1024.7M531.8 983.2L532.5 980.3L533.2 977.4L533.9 974.4L534.6 971.5L535.3 968.6L536.1 965.7L536.8 962.8L537.5 959.9L538.2 957.0L538.9 954.0L539.6 951.5M550.6 907.6L551.3 904.7L552.1 901.8L552.8 898.9L553.6 896.0L554.3 893.1L555.0 890.1L555.8 887.2L556.5 884.3L557.3 881.4L558.0 878.5L558.6 876.0M569.5 832.7L570.3 829.7L571.0 826.8L571.7 823.9L572.4 821.0L573.1 818.1L573.8 815.2L574.6 812.3L575.3 809.4L576.0 806.4L576.7 803.5L577.3 801.0M587.8 755.3L588.5 752.4L589.1 749.4L589.8 746.5L590.4 743.6L591.0 740.7L591.7 737.7L592.3 734.8L592.9 731.9L593.5 728.9L594.2 726.0L594.7 723.4M604.6 678.7L605.3 675.8L606.0 672.8L606.7 669.9L607.5 667.0L608.3 664.1L609.0 661.2L609.8 658.3L610.6 655.5L611.5 652.6L612.3 649.7L613.2 646.8L614.1 644.0L615.0 641.1L615.9 638.3L616.9 635.4L617.9 632.6L618.9 629.7L619.9 626.9L621.0 624.1L622.0 621.3L623.1 618.5L623.4 617.9M644.4 577.3L646.0 574.8L647.8 572.4L649.7 570.0L651.6 567.8L653.7 565.6L655.9 563.5L658.2 561.6L660.5 559.8L663.0 558.1L665.6 556.5L668.3 555.2L668.7 555.0M701.3 566.6L703.1 569.0L704.9 571.4L706.7 573.8L708.5 576.2L710.3 578.6L712.1 581.0L713.8 583.4L715.6 585.9L717.3 588.3L719.0 590.8L720.5 592.9M741.9 626.9L743.4 629.5L744.9 632.1L746.3 634.7L747.8 637.3L749.3 640.0L750.7 642.6L752.1 645.2L753.5 647.9L755.0 650.5L756.4 653.2L757.6 655.5M776.8 694.7L778.1 697.4L779.4 700.1L780.6 702.9L781.9 705.6L783.1 708.3L784.4 711.0L785.6 713.8L786.8 716.5L788.1 719.2L789.3 722.0L790.3 724.4M807.8 764.6L809.0 767.4L810.2 770.2L811.4 772.9L812.5 775.7L813.7 778.5L814.9 781.2L816.0 784.0L817.2 786.7L818.4 789.5L819.5 792.3L820.5 794.7M837.0 834.1L838.2 836.8L839.4 839.6L840.5 842.4L841.7 845.1L842.9 847.9L844.0 850.7L845.2 853.4L846.4 856.2L847.5 858.9L848.7 861.7L849.7 864.1M866.2 902.0L867.5 904.7L868.7 907.4L869.9 910.2L871.2 912.9L872.4 915.6L873.6 918.4L874.9 921.1L876.1 923.8L877.4 926.5L878.7 929.3L879.8 931.6M898.3 969.7L899.7 972.4L901.0 975.1L902.4 977.7L903.8 980.4L905.2 983.1L906.6 985.7L908.0 988.4L909.4 991.0L910.8 993.7L912.2 996.3L913.5 998.6M935.4 1037.8L936.9 1040.4L938.4 1043.0L939.9 1045.7L941.4 1048.3L942.9 1050.9L944.4 1053.5L945.9 1056.1L947.4 1058.7L948.9 1061.3L950.4 1063.9L951.7 1066.1M972.1 1102.1L973.6 1104.8L975.1 1107.4L976.5 1110.0L977.9 1112.6L979.4 1115.3L980.8 1117.9L982.2 1120.6L983.7 1123.2L985.1 1125.8L986.5 1128.5L987.7 1130.8M1006.6 1164.9L1008.2 1167.5L1009.7 1170.1L1011.3 1172.7L1012.8 1175.2L1014.4 1177.8L1016.0 1180.3L1017.6 1182.8L1019.3 1185.3L1021.0 1187.8L1022.6 1190.3L1024.1 1192.4M1049.1 1224.7L1051.1 1227.0L1053.1 1229.2L1055.1 1231.5L1057.1 1233.7L1059.1 1235.9L1061.1 1238.1L1063.2 1240.3L1065.3 1242.5L1067.4 1244.6L1069.5 1246.8L1071.3 1248.6M1104.5 1278.8L1106.8 1280.7L1109.1 1282.6L1111.5 1284.4L1113.8 1286.3L1116.2 1288.2L1118.5 1290.0L1120.9 1291.8L1123.3 1293.6L1125.7 1295.4L1128.1 1297.2L1130.2 1298.7M1166.9 1323.3L1169.5 1324.9L1172.0 1326.5L1174.6 1328.0L1177.2 1329.6L1179.7 1331.1L1182.3 1332.6L1184.9 1334.1L1187.5 1335.6L1190.2 1337.0L1192.8 1338.5L1195.1 1339.8M1235.8 1360.5L1238.5 1361.8L1241.2 1363.1L1244.0 1364.3L1246.7 1365.6L1249.4 1366.8L1252.2 1368.0L1254.9 1369.2L1257.7 1370.4L1260.4 1371.6L1263.2 1372.8L1265.6 1373.8M1305.2 1389.4L1308.1 1390.4L1310.9 1391.5L1313.7 1392.5L1316.5 1393.5L1319.4 1394.5L1322.2 1395.5L1325.0 1396.4L1327.9 1397.4L1330.7 1398.4L1333.5 1399.3L1336.0 1400.2M1379.0 1413.6L1381.9 1414.5L1384.8 1415.3L1387.7 1416.1L1390.6 1417.0L1393.5 1417.8L1396.3 1418.6L1399.2 1419.4L1402.1 1420.2L1405.0 1421.0L1407.9 1421.8L1410.4 1422.5M1434.9 1429.1L1437.8 1429.8L1440.7 1430.6L1443.6 1431.4L1446.5 1432.1L1449.4 1432.8L1452.3 1433.6L1455.2 1434.3L1458.1 1435.1L1461.1 1435.8L1464.0 1436.5L1466.5 1437.2M1511.6 1448.1L1514.5 1448.8L1517.5 1449.5L1520.4 1450.2L1523.3 1450.8L1526.2 1451.5L1529.2 1452.2L1532.1 1452.9L1535.0 1453.5L1537.9 1454.2L1540.9 1454.9L1543.4 1455.4M1586.2 1464.8L1589.1 1465.5L1592.1 1466.1L1595.0 1466.7L1597.9 1467.3L1600.9 1468.0L1603.8 1468.6L1606.8 1469.2L1609.7 1469.8L1612.6 1470.4L1615.6 1471.0L1618.1 1471.5M1662.4 1480.5L1665.4 1481.0L1668.3 1481.6L1671.3 1482.2L1674.2 1482.8L1677.2 1483.3L1680.1 1483.9L1683.0 1484.5L1686.0 1485.0L1688.9 1485.6L1691.9 1486.2L1694.4 1486.6M1738.9 1494.9L1741.9 1495.5L1744.8 1496.0L1747.8 1496.6L1750.7 1497.1L1753.7 1497.6L1756.6 1498.2L1759.6 1498.7L1762.5 1499.2L1765.5 1499.7L1768.4 1500.3L1771.0 1500.7M1814.3 1508.3L1817.2 1508.8L1820.2 1509.3L1823.2 1509.9L1826.1 1510.4L1829.1 1510.9L1832.0 1511.4L1835.0 1511.9L1837.9 1512.4L1840.9 1512.9L1843.9 1513.4L1846.4 1513.8M1891.1 1521.3L1894.0 1521.8L1897.0 1522.3L1900.0 1522.8L1902.9 1523.3L1905.9 1523.8L1908.8 1524.3L1911.8 1524.8L1914.8 1525.3L1917.7 1525.8L1920.7 1526.3L1923.2 1526.7M1969.2 1534.2L1972.2 1534.7L1975.1 1535.2L1978.1 1535.7L1981.0 1536.2L1984.0 1536.7L1987.0 1537.2L1989.9 1537.6L1992.9 1538.1L1995.8 1538.6L1998.8 1539.1L2001.4 1539.5M2044.7 1546.6L2047.6 1547.1L2050.6 1547.5L2053.6 1548.0L2056.5 1548.5L2059.5 1549.0L2062.5 1549.4L2065.4 1549.9L2068.4 1550.4L2071.3 1550.9L2074.3 1551.3L2076.9 1551.7M2121.5 1558.7L2124.5 1559.1L2127.4 1559.6L2130.4 1560.0L2133.4 1560.5L2136.3 1560.9L2139.3 1561.3L2142.3 1561.8L2145.2 1562.2L2148.2 1562.7L2151.2 1563.1L2153.7 1563.5M2198.5 1569.7L2201.4 1570.1L2204.4 1570.5L2207.4 1570.9L2210.3 1571.3L2213.3 1571.7L2216.3 1572.1L2219.3 1572.4L2222.2 1572.8L2225.2 1573.2L2228.2 1573.6L2230.8 1573.9M2274.3 1579.0L2277.3 1579.3L2280.3 1579.6L2283.3 1579.9L2286.3 1580.2L2289.3 1580.5L2292.2 1580.8L2295.2 1581.1L2298.2 1581.4L2301.2 1581.7L2304.2 1582.0L2306.8 1582.3M2351.9 1586.2L2354.9 1586.4L2357.9 1586.6L2360.9 1586.8L2363.9 1587.0L2366.9 1587.2L2369.9 1587.4L2372.9 1587.6L2375.8 1587.8L2378.8 1588.0L2380.0 1588.1" stroke="#ff0000"/>
<path d="M373.1 864.7L373.2 867.7L373.3 869.9M371.6 818.5L371.7 821.5L371.7 823.7M370.3 772.2L370.4 775.2L370.4 777.4M369.2 725.9L369.3 728.9L369.3 731.1M368.2 679.6L368.3 682.6L368.3 684.8M367.4 633.3L367.4 636.3L367.5 638.5M366.6 587.0L366.7 590.0L366.7 592.2M365.9 540.7L366.0 543.7L366.0 545.9M365.3 494.4L365.3 497.4L365.3 499.6M364.6 448.1L364.6 451.1L364.7 453.3M374.8 911.0L374.9 914.0L375.0 916.2M376.8 957.0L377.0 960.0L377.1 962.2M379.0 1001.7L379.2 1004.7L379.3 1006.9M381.5 1045.1L381.7 1048.1L381.8 1050.3M384.7 1092.4L384.9 1095.4L385.0 1097.5M388.6 1140.7L388.8 1143.7L389.0 1145.9M392.9 1185.1L393.3 1188.0L393.5 1190.2M399.0 1235.4L399.4 1238.4L399.7 1240.5M417.9 1285.7L420.6 1286.9L422.8 1287.5M439.9 1277.1L441.7 1274.7L443.0 1272.9M466.3 1231.1L467.4 1228.4L468.3 1226.3M480.9 1189.1L481.7 1186.2L482.3 1184.1M492.9 1144.8L493.6 1141.9L494.2 1139.7M504.0 1105.4L504.9 1102.5L505.5 1100.4M518.4 1057.7L519.2 1054.8L519.9 1052.7M532.2 1011.1L533.0 1008.2L533.6 1006.1M544.5 968.2L545.3 965.3L545.9 963.2M556.8 923.9L557.6 921.0L558.2 918.9M568.7 879.5L569.4 876.6L570.0 874.4M580.7 832.4L581.4 829.5L581.9 827.4M591.6 787.7L592.3 784.8L592.8 782.7M602.4 743.0L603.1 740.1L603.6 737.9M613.9 697.2L614.6 694.3L615.2 692.1M619.4 676.2L620.2 673.3L620.8 671.2M632.3 630.9L633.1 628.0L633.8 625.9M646.7 586.9L647.7 584.1L648.5 582.1M670.5 543.4L672.8 541.4L674.4 539.9M704.6 533.1L707.4 534.3L709.3 535.4M729.9 555.9L731.5 558.5L732.7 560.4M748.2 595.1L749.5 597.8L750.4 599.8M768.9 628.9L770.7 631.4L772.0 633.1M792.5 662.2L794.0 664.8L795.1 666.8M810.5 703.1L811.7 705.9L812.6 707.9M829.7 742.1L831.1 744.7L832.1 746.7M849.3 782.2L850.5 785.0L851.4 787.0M869.3 827.8L870.5 830.6L871.3 832.6M887.7 871.4L888.8 874.1L889.7 876.2M906.0 913.5L907.2 916.2L908.1 918.2M922.8 949.3L924.1 951.9L925.1 953.9M944.2 989.9L945.6 992.6L946.7 994.5M967.8 1032.3L969.3 1035.0L970.4 1036.9M988.1 1069.3L989.5 1072.0L990.5 1073.9M1006.6 1104.3L1008.1 1106.9L1009.2 1108.8M1028.6 1138.5L1030.5 1140.9L1031.9 1142.6M1058.9 1171.9L1061.0 1174.1L1062.5 1175.7M1089.1 1206.4L1090.8 1208.8L1092.1 1210.6M1114.0 1242.2L1115.8 1244.6L1117.2 1246.3M1148.8 1275.6L1151.2 1277.4L1152.9 1278.7M1186.0 1300.6L1188.6 1302.2L1190.5 1303.3M1224.6 1323.3L1227.2 1324.7L1229.1 1325.8M1268.6 1346.2L1271.3 1347.5L1273.3 1348.4M1309.3 1364.0L1312.1 1365.1L1314.1 1365.9M1352.6 1379.5L1355.5 1380.5L1357.6 1381.1M1396.6 1393.4L1399.5 1394.3L1401.6 1395.0M1438.2 1406.3L1441.1 1407.1L1443.2 1407.8M1482.3 1418.9L1485.2 1419.7L1487.3 1420.2M1526.9 1429.2L1529.8 1429.8L1532.0 1430.2M1572.3 1436.6L1575.3 1437.0L1577.4 1437.3M1617.9 1443.4L1620.8 1443.9L1623.0 1444.3M1663.0 1452.3L1665.9 1453.0L1668.1 1453.5M1710.3 1463.6L1713.2 1464.3L1715.3 1464.9M1755.3 1474.6L1758.2 1475.3L1760.3 1475.8M1801.1 1484.5L1804.1 1485.0L1806.2 1485.4M1846.5 1491.8L1849.4 1492.2L1851.6 1492.5M1892.4 1497.5L1895.4 1497.8L1897.6 1498.1M1938.4 1502.7L1941.4 1503.1L1943.6 1503.3M1984.4 1508.4L1987.3 1508.8L1989.5 1509.1M2030.3 1514.7L2033.3 1515.1L2035.5 1515.5M2077.1 1521.5L2080.1 1521.9L2082.3 1522.3M2122.6 1528.2L2125.6 1528.7L2127.8 1529.0M2169.4 1535.1L2172.3 1535.5L2174.5 1535.8M2214.9 1541.5L2217.9 1541.9L2220.0 1542.2M2260.5 1547.4L2263.4 1547.8L2265.6 1548.1M2306.1 1552.7L2309.1 1553.0L2311.3 1553.2M2353.2 1557.1L2356.2 1557.4L2358.4 1557.6" stroke="#0000ff"/>
<path d="M399.1 1233.6L399.4 1236.6L399.7 1239.6L400.0 1242.6L400.3 1245.6L400.7 1248.5L401.2 1251.5L401.7 1254.5L402.3 1257.4L403.1 1260.3L404.0 1263.2L405.0 1266.0L406.3 1268.7L407.7 1271.3L408.3 1272.3M393.3 1202.4L394.1 1205.3L394.7 1207.9M376.3 1138.7L376.9 1141.6L377.5 1144.5L378.1 1147.5L378.8 1150.4L379.5 1153.3L380.2 1156.2L380.9 1159.1L381.7 1162.0L382.5 1164.9L383.3 1167.8L384.1 1170.7L385.0 1173.6L385.8 1176.5L386.1 1177.5M371.4 1107.2L371.8 1110.2L372.1 1112.9M367.4 1041.4L367.5 1044.4L367.5 1047.4L367.6 1050.4L367.7 1053.4L367.8 1056.4L367.9 1059.4L368.1 1062.4L368.2 1065.4L368.3 1068.4L368.5 1071.4L368.6 1074.4L368.8 1077.4L369.0 1080.4L369.1 1081.5M367.1 1009.6L367.1 1012.6L367.1 1015.3M366.9 943.6L366.9 946.6L366.9 949.6L366.9 952.6L366.9 955.6L366.9 958.6L366.9 961.6L366.9 964.6L366.9 967.6L367.0 970.6L367.0 973.6L367.0 976.6L367.0 979.6L367.0 982.6L367.0 983.7M366.8 911.8L366.8 914.8L366.8 917.5M366.5 845.8L366.5 848.8L366.5 851.8L366.5 854.8L366.5 857.8L366.6 860.8L366.6 863.8L366.6 866.8L366.6 869.8L366.6 872.8L366.6 875.8L366.6 878.8L366.6 881.8L366.7 884.8L366.7 885.9M366.3 814.0L366.4 817.0L366.4 819.7M366.0 748.0L366.0 751.0L366.1 754.0L366.1 757.0L366.1 760.0L366.1 763.0L366.1 766.0L366.1 769.0L366.1 772.0L366.2 775.0L366.2 778.0L366.2 781.0L366.2 784.0L366.2 787.0L366.2 788.1M365.9 716.2L365.9 719.2L365.9 721.9M365.5 650.2L365.5 653.2L365.6 656.2L365.6 659.2L365.6 662.2L365.6 665.2L365.6 668.2L365.6 671.2L365.7 674.2L365.7 677.2L365.7 680.2L365.7 683.2L365.7 686.2L365.7 689.2L365.7 690.3M365.4 618.4L365.4 621.4L365.4 624.1M365.0 552.4L365.1 555.4L365.1 558.4L365.1 561.4L365.1 564.4L365.1 567.4L365.1 570.4L365.1 573.4L365.2 576.4L365.2 579.4L365.2 582.4L365.2 585.4L365.2 588.4L365.2 591.4L365.2 592.5M364.9 520.6L364.9 523.6L364.9 526.3M364.6 454.6L364.6 457.6L364.6 460.6L364.6 463.6L364.6 466.6L364.7 469.6L364.7 472.6L364.7 475.6L364.7 478.6L364.7 481.6L364.7 484.6L364.7 487.6L364.7 490.6L364.8 493.6L364.8 494.7M429.4 1284.6L432.3 1284.1L434.9 1283.2M453.1 1266.0L454.7 1263.4L456.3 1260.9L457.8 1258.3L459.3 1255.7L460.7 1253.1L462.1 1250.4L463.5 1247.7L464.8 1245.0L466.0 1242.3L467.3 1239.6L468.5 1236.8L469.7 1234.1L470.9 1231.3L471.3 1230.3M480.7 1204.4L481.6 1201.5L482.5 1199.0M491.0 1172.2L491.9 1169.4L492.8 1166.5L493.7 1163.6L494.6 1160.8L495.4 1157.9L496.3 1155.0L497.2 1152.2L498.0 1149.3L498.9 1146.4L499.8 1143.5L500.6 1140.7L501.5 1137.8L502.3 1134.9L502.6 1133.8M510.3 1107.4L511.1 1104.5L511.8 1101.9M518.4 1078.6L519.2 1075.7L520.0 1072.9L520.8 1070.0L521.6 1067.1L522.4 1064.2L523.2 1061.3L524.0 1058.4L524.9 1055.5L525.7 1052.6L526.5 1049.7L527.3 1046.9L528.1 1044.0L528.9 1041.1L529.2 1040.0M536.4 1014.1L537.2 1011.2L538.0 1008.6M545.0 984.0L545.8 981.1L546.6 978.3L547.5 975.4L548.3 972.5L549.1 969.6L550.0 966.7L550.8 963.9L551.7 961.0L552.5 958.1L553.4 955.2L554.2 952.3L555.1 949.5L555.9 946.6L556.2 945.5M563.7 920.7L564.6 917.9L565.4 915.3M572.5 891.8L573.4 888.9L574.3 886.0L575.2 883.1L576.0 880.3L576.9 877.4L577.8 874.5L578.6 871.7L579.5 868.8L580.4 865.9L581.2 863.0L582.1 860.2L582.9 857.3L583.8 854.4L584.1 853.4M591.9 826.9L592.7 824.0L593.5 821.4M601.1 793.9L601.9 791.0L602.7 788.1L603.4 785.2L604.2 782.3L605.0 779.4L605.7 776.5L606.5 773.6L607.2 770.7L608.0 767.8L608.7 764.9L609.4 762.0L610.1 759.1L610.9 756.2L611.6 753.2L612.3 750.3L613.0 747.4L613.7 744.5L614.3 741.6L615.0 738.6L615.7 735.7L616.3 732.8L617.0 729.9L617.4 728.3M623.3 699.3L623.9 696.3L624.5 693.4L625.0 690.4L625.5 687.5L626.1 684.5L626.6 681.6L627.1 678.6L627.6 675.7L628.1 672.7L628.6 669.7L629.0 666.8L629.5 663.8L630.0 660.9L630.2 659.8M634.5 635.4L635.0 632.5L635.6 629.9M643.5 599.7L644.4 596.9L645.4 594.1L646.5 591.3L647.6 588.5L648.7 585.7L649.9 582.9L651.2 580.2L652.5 577.5L653.9 574.8L655.3 572.2L656.8 569.6L658.3 567.0L659.9 564.5L661.5 562.0L663.3 559.5L665.0 557.1L666.9 554.7L668.7 552.4L670.0 550.9M691.5 534.6L694.4 534.5L697.1 534.9M717.4 550.3L719.4 552.5L721.5 554.7L723.5 556.9L725.5 559.2L727.5 561.4L729.5 563.6L731.5 565.9L733.5 568.1L735.5 570.4L737.5 572.6L739.5 574.8L741.5 577.1L743.5 579.3L744.2 580.1M760.4 597.1L762.5 599.3L764.4 601.2M785.1 623.9L787.0 626.2L788.9 628.6L790.8 630.9L792.6 633.3L794.4 635.7L796.2 638.1L797.9 640.6L799.6 643.1L801.2 645.6L802.8 648.1L804.3 650.7L805.9 653.3L807.4 655.9L807.9 656.8M820.4 682.7L821.6 685.5L822.6 688.0M831.3 710.6L832.3 713.4L833.4 716.3L834.4 719.1L835.4 721.9L836.4 724.7L837.4 727.5L838.4 730.4L839.4 733.2L840.4 736.0L841.5 738.8L842.5 741.7L843.5 744.5L844.5 747.3L844.9 748.3M853.5 771.1L854.6 773.9L855.5 776.5M865.5 801.3L866.7 804.0L867.9 806.8L869.0 809.5L870.2 812.3L871.4 815.0L872.6 817.8L873.9 820.5L875.1 823.3L876.3 826.0L877.6 828.7L878.9 831.4L880.1 834.1L881.4 836.9L881.9 837.8M892.1 858.1L893.5 860.8L894.8 863.1M907.2 885.0L908.8 887.6L910.3 890.2L911.8 892.7L913.4 895.3L914.9 897.9L916.5 900.4L918.1 903.0L919.6 905.5L921.2 908.1L922.8 910.7L924.4 913.2L925.9 915.8L927.5 918.3L928.1 919.2M940.7 939.7L942.2 942.2L943.6 944.6M957.2 967.5L958.7 970.1L960.2 972.7L961.7 975.3L963.2 977.9L964.7 980.5L966.2 983.1L967.7 985.7L969.2 988.3L970.7 990.9L972.1 993.5L973.6 996.1L975.1 998.7L976.6 1001.4L977.1 1002.3M989.1 1023.4L990.5 1026.0L991.9 1028.4M1005.1 1051.6L1006.6 1054.2L1008.1 1056.8L1009.7 1059.4L1011.2 1062.0L1012.7 1064.6L1014.2 1067.2L1015.7 1069.7L1017.2 1072.3L1018.8 1074.9L1020.3 1077.5L1021.8 1080.1L1023.4 1082.6L1024.9 1085.2L1025.5 1086.1M1038.9 1107.7L1040.5 1110.3L1042.0 1112.5M1056.0 1133.6L1057.7 1136.1L1059.4 1138.6L1061.1 1141.0L1062.8 1143.5L1064.5 1145.9L1066.3 1148.4L1068.0 1150.8L1069.8 1153.2L1071.6 1155.7L1073.4 1158.1L1075.2 1160.5L1077.0 1162.9L1078.8 1165.2L1079.5 1166.1M1096.1 1186.9L1098.0 1189.2L1099.7 1191.3M1113.8 1207.5L1115.8 1209.7L1117.9 1211.9L1119.9 1214.1L1121.9 1216.3L1124.0 1218.5L1126.0 1220.7L1128.1 1222.9L1130.2 1225.0L1132.3 1227.2L1134.4 1229.3L1136.5 1231.5L1138.6 1233.6L1140.7 1235.7L1141.5 1236.5M1158.9 1253.0L1161.1 1255.0L1163.1 1256.8M1182.2 1273.3L1184.5 1275.2L1186.8 1277.1L1189.1 1279.0L1191.5 1280.9L1193.8 1282.7L1196.2 1284.6L1198.5 1286.4L1200.9 1288.3L1203.3 1290.1L1205.7 1291.9L1208.1 1293.7L1210.5 1295.5L1212.9 1297.2L1213.8 1297.9M1235.5 1312.9L1238.0 1314.6L1240.3 1316.0M1261.7 1329.3L1264.3 1330.8L1266.9 1332.3L1269.5 1333.8L1272.1 1335.3L1274.7 1336.7L1277.3 1338.2L1280.0 1339.6L1282.6 1341.1L1285.3 1342.5L1287.9 1343.9L1290.6 1345.3L1293.2 1346.7L1295.9 1348.1L1296.9 1348.6M1319.6 1359.7L1322.3 1361.0L1324.8 1362.1M1348.1 1372.4L1350.8 1373.6L1353.6 1374.7L1356.4 1375.9L1359.1 1377.0L1361.9 1378.2L1364.7 1379.3L1367.5 1380.4L1370.3 1381.5L1373.1 1382.6L1375.9 1383.7L1378.7 1384.7L1381.5 1385.8L1384.3 1386.9L1385.3 1387.2M1409.4 1395.9L1412.2 1396.9L1414.8 1397.8M1440.3 1406.1L1443.2 1407.0L1446.1 1407.9L1448.9 1408.8L1451.8 1409.7L1454.7 1410.6L1457.5 1411.5L1460.4 1412.3L1463.3 1413.2L1466.2 1414.0L1469.0 1414.9L1471.9 1415.7L1474.8 1416.5L1477.7 1417.4L1478.7 1417.7M1504.5 1424.8L1507.4 1425.5L1510.0 1426.2M1534.6 1432.4L1537.5 1433.2L1540.4 1433.9L1543.3 1434.6L1546.2 1435.3L1549.2 1436.0L1552.1 1436.7L1555.0 1437.3L1557.9 1438.0L1560.8 1438.7L1563.8 1439.4L1566.7 1440.0L1569.6 1440.7L1572.5 1441.4L1573.6 1441.6M1599.5 1447.2L1602.5 1447.8L1605.1 1448.4M1631.1 1453.6L1634.1 1454.2L1637.0 1454.7L1640.0 1455.3L1642.9 1455.9L1645.8 1456.4L1648.8 1457.0L1651.7 1457.5L1654.7 1458.1L1657.6 1458.6L1660.6 1459.2L1663.5 1459.7L1666.5 1460.3L1669.4 1460.8L1670.5 1461.0M1696.6 1465.6L1699.6 1466.1L1702.3 1466.6M1727.2 1470.7L1730.1 1471.2L1733.1 1471.7L1736.1 1472.2L1739.0 1472.7L1742.0 1473.1L1744.9 1473.6L1747.9 1474.1L1750.9 1474.6L1753.8 1475.0L1756.8 1475.5L1759.8 1476.0L1762.7 1476.4L1765.7 1476.9L1766.8 1477.1M1791.8 1480.9L1794.7 1481.4L1797.4 1481.8M1824.9 1486.0L1827.9 1486.4L1830.9 1486.9L1833.8 1487.3L1836.8 1487.8L1839.8 1488.2L1842.7 1488.7L1845.7 1489.1L1848.7 1489.6L1851.6 1490.0L1854.6 1490.5L1857.6 1490.9L1860.5 1491.4L1863.5 1491.8L1864.6 1492.0M1889.6 1495.8L1892.6 1496.2L1895.3 1496.6M1921.6 1500.7L1924.5 1501.1L1927.5 1501.6L1930.4 1502.1L1933.4 1502.5L1936.4 1503.0L1939.3 1503.5L1942.3 1504.0L1945.3 1504.4L1948.2 1504.9L1951.2 1505.4L1954.1 1505.9L1957.1 1506.3L1960.1 1506.8L1961.2 1507.0M1986.2 1511.1L1989.1 1511.6L1991.8 1512.0M2017.6 1516.4L2020.5 1516.9L2023.5 1517.4L2026.4 1517.9L2029.4 1518.4L2032.4 1518.9L2035.3 1519.4L2038.3 1519.9L2041.2 1520.4L2044.2 1520.9L2047.1 1521.4L2050.1 1521.9L2053.1 1522.4L2056.0 1523.0L2059.0 1523.5L2061.9 1524.0L2064.9 1524.5L2067.8 1525.0L2070.8 1525.5L2073.7 1526.0L2076.7 1526.5L2079.7 1527.0L2082.6 1527.6L2085.6 1528.1L2088.5 1528.6L2091.5 1529.1L2091.9 1529.2M2116.4 1533.4L2119.3 1533.9L2122.0 1534.4M2149.5 1539.1L2152.5 1539.7L2155.4 1540.2L2158.4 1540.7L2161.3 1541.2L2164.3 1541.7L2167.3 1542.2L2170.2 1542.7L2173.2 1543.2L2176.1 1543.7L2179.1 1544.2L2182.0 1544.7L2185.0 1545.2L2188.0 1545.7L2189.0 1545.9M2212.8 1549.9L2215.7 1550.4L2218.4 1550.8M2244.7 1555.2L2247.6 1555.6L2250.6 1556.1L2253.6 1556.6L2256.5 1557.1L2259.5 1557.5L2262.4 1558.0L2265.4 1558.5L2268.4 1559.0L2271.3 1559.4L2274.3 1559.9L2277.3 1560.3L2280.2 1560.8L2283.2 1561.3L2284.3 1561.4M2309.3 1565.3L2312.3 1565.7L2314.9 1566.1M2340.8 1569.9L2343.7 1570.3L2346.7 1570.7L2349.7 1571.1L2352.6 1571.5L2355.6 1571.9L2358.6 1572.3L2361.6 1572.7L2364.5 1573.2L2367.5 1573.6L2370.5 1574.0L2373.5 1574.3L2376.4 1574.7L2379.4 1575.1L2379.9 1575.2" stroke="#ff00ff"/>
<path d="M394.0 1234.1L395.0 1236.9L396.0 1239.7L397.0 1242.6L398.0 1245.4L398.8 1248.3L399.7 1251.2L400.4 1254.1L401.2 1257.0L401.9 1259.9L402.4 1262.1M384.3 1204.2L384.9 1207.1L385.6 1209.7M381.2 1172.5L381.4 1175.5L381.5 1178.2M378.3 1117.9L378.4 1120.9L378.6 1123.9L378.7 1126.9L378.9 1129.9L379.0 1132.9L379.2 1135.9L379.4 1138.9L379.5 1141.9L379.7 1144.9L379.8 1147.2M376.8 1086.4L376.9 1089.4L377.1 1092.1M375.4 1054.7L375.6 1057.7L375.7 1060.4M373.4 1000.0L373.5 1003.0L373.6 1006.0L373.7 1009.0L373.8 1012.0L373.9 1015.0L374.0 1018.0L374.1 1021.0L374.2 1024.0L374.4 1027.0L374.4 1029.3M372.3 968.5L372.4 971.5L372.5 974.2M371.4 936.7L371.5 939.7L371.6 942.4M370.0 882.1L370.1 885.1L370.2 888.1L370.2 891.1L370.3 894.1L370.4 897.1L370.4 900.1L370.5 903.1L370.6 906.1L370.7 909.1L370.7 911.4M369.3 850.6L369.4 853.6L369.4 856.3M368.7 818.8L368.8 821.8L368.8 824.5M367.8 764.1L367.8 767.1L367.9 770.1L367.9 773.1L368.0 776.1L368.0 779.1L368.1 782.1L368.1 785.1L368.2 788.1L368.2 791.1L368.3 793.4M367.4 732.6L367.4 735.6L367.4 738.3M367.0 700.8L367.0 703.8L367.0 706.5M366.4 646.1L366.4 649.1L366.4 652.1L366.5 655.1L366.5 658.1L366.5 661.1L366.6 664.1L366.6 667.1L366.6 670.1L366.6 673.1L366.7 675.4M366.1 614.6L366.1 617.6L366.1 620.3M365.8 582.8L365.8 585.8L365.8 588.5M365.3 528.1L365.4 531.1L365.4 534.1L365.4 537.1L365.4 540.1L365.5 543.1L365.5 546.1L365.5 549.1L365.5 552.1L365.6 555.1L365.6 557.4M365.1 496.6L365.1 499.6L365.1 502.3M364.8 464.8L364.8 467.8L364.9 470.5M364.5 432.0L364.6 435.0L364.6 438.0L364.6 439.4M412.2 1285.2L414.4 1287.3L416.6 1288.9M436.7 1292.5L439.7 1291.8L442.2 1291.0M460.4 1275.3L462.2 1272.9L463.8 1270.4L465.5 1267.9L467.1 1265.3L468.6 1262.8L470.2 1260.2L471.7 1257.6L473.3 1255.1L474.8 1252.5L475.9 1250.5M487.0 1225.7L487.9 1222.8L488.5 1220.2M493.0 1194.5L493.5 1191.6L493.9 1188.9M499.2 1163.6L500.0 1160.7L500.7 1157.8L501.5 1154.9L502.2 1152.0L503.0 1149.1L503.9 1146.2L504.7 1143.3L505.5 1140.5L506.4 1137.6L507.1 1135.4M514.9 1110.9L515.8 1108.1L516.7 1105.5M524.6 1082.0L525.6 1079.1L526.4 1076.6M534.4 1052.1L535.3 1049.2L536.2 1046.4L537.1 1043.5L538.0 1040.6L538.9 1037.8L539.7 1034.9L540.6 1032.0L541.4 1029.1L542.3 1026.3L542.9 1024.1M550.5 996.9L551.3 994.0L551.9 991.3M558.0 966.1L558.7 963.1L559.3 960.5M564.4 935.5L565.0 932.5L565.6 929.6L566.2 926.6L566.7 923.7L567.3 920.7L567.9 917.8L568.4 914.8L569.0 911.9L569.6 909.0L570.0 906.7M574.9 882.9L575.5 879.9L576.1 877.3M577.9 869.6L578.6 866.7L579.3 863.7L580.0 860.8L580.7 857.9L581.5 855.0L582.3 852.1L583.0 849.2L583.8 846.3L584.7 843.4L585.3 841.2M592.8 816.4L593.7 813.6L594.5 811.0M602.5 786.0L603.5 783.1L604.3 780.6M612.0 756.0L612.8 753.1L613.7 750.2L614.5 747.3L615.3 744.4L616.1 741.6L616.9 738.7L617.7 735.8L618.5 732.9L619.3 730.0L619.9 727.8M626.0 703.1L626.6 700.2L627.3 697.6M633.2 672.5L633.9 669.5L634.6 666.9M641.0 642.0L641.7 639.1L642.5 636.3L643.4 633.4L644.2 630.5L645.0 627.6L645.9 624.7L646.8 621.9L647.7 619.0L648.6 616.1L649.3 614.0M657.0 593.0L658.2 590.3L659.3 587.8M668.3 570.2L669.8 567.6L671.3 565.3M685.8 547.5L688.5 546.2L691.4 545.5L694.4 545.0L697.3 544.4L700.3 543.9L703.3 543.4L706.2 542.9L709.2 542.6L712.2 542.4L714.5 542.4M733.7 552.0L735.8 554.2L737.6 556.2M753.3 578.5L754.9 581.0L756.3 583.3M767.1 600.7L768.7 603.3L770.3 605.8L771.9 608.3L773.5 610.9L775.1 613.4L776.7 615.9L778.3 618.5L779.9 621.0L781.6 623.5L782.8 625.5M795.9 646.3L797.5 648.8L798.9 651.1M812.6 673.4L814.1 676.0L815.5 678.3M829.0 701.7L830.4 704.3L831.9 706.9L833.3 709.6L834.8 712.2L836.2 714.8L837.6 717.5L839.1 720.1L840.5 722.7L841.9 725.4L843.0 727.4M854.8 750.2L856.1 752.9L857.3 755.3M868.8 778.7L870.1 781.4L871.2 783.9M882.2 807.2L883.5 809.9L884.8 812.6L886.1 815.3L887.3 818.0L888.6 820.8L889.9 823.5L891.2 826.2L892.4 828.9L893.7 831.6L894.7 833.7M905.3 855.8L906.6 858.5L907.7 860.9M918.8 883.1L920.1 885.8L921.4 888.2M933.8 912.1L935.2 914.7L936.6 917.4L938.0 920.0L939.5 922.7L940.9 925.3L942.3 927.9L943.8 930.6L945.2 933.2L946.7 935.8L947.8 937.8M961.1 961.3L962.7 963.8L964.0 966.2M976.8 987.5L978.3 990.0L979.7 992.3M994.0 1015.4L995.6 1017.9L997.2 1020.5L998.7 1023.0L1000.3 1025.5L1001.9 1028.1L1003.5 1030.6L1005.1 1033.2L1006.7 1035.7L1008.3 1038.3L1009.5 1040.2M1023.1 1062.1L1024.7 1064.6L1026.1 1066.9M1039.7 1089.1L1041.3 1091.6L1042.7 1093.9M1055.9 1114.5L1057.6 1116.9L1059.2 1119.4L1060.9 1121.9L1062.6 1124.4L1064.3 1126.9L1066.1 1129.3L1067.8 1131.8L1069.5 1134.2L1071.3 1136.6L1072.7 1138.5M1087.8 1157.9L1089.7 1160.2L1091.4 1162.3M1106.9 1180.1L1109.0 1182.3L1110.8 1184.3M1127.0 1200.9L1129.2 1203.0L1131.4 1205.1L1133.5 1207.2L1135.7 1209.2L1137.9 1211.2L1140.2 1213.3L1142.4 1215.3L1144.6 1217.3L1146.9 1219.2L1148.6 1220.8M1169.3 1237.8L1171.6 1239.7L1173.8 1241.3M1193.5 1256.1L1196.0 1257.8L1198.2 1259.4M1220.3 1274.7L1222.8 1276.4L1225.3 1278.1L1227.8 1279.7L1230.3 1281.4L1232.8 1283.0L1235.3 1284.7L1237.8 1286.3L1240.3 1288.0L1242.8 1289.6L1244.7 1290.9M1267.6 1305.4L1270.2 1307.0L1272.5 1308.4M1295.0 1322.0L1297.5 1323.5L1299.9 1324.8M1321.3 1336.9L1324.0 1338.3L1326.6 1339.8L1329.3 1341.2L1331.9 1342.6L1334.6 1344.0L1337.2 1345.4L1339.9 1346.8L1342.5 1348.1L1345.2 1349.5L1347.3 1350.5M1371.6 1362.3L1374.4 1363.5L1376.8 1364.6M1398.4 1373.9L1401.2 1375.0L1403.7 1376.0M1433.6 1387.1L1436.4 1388.1L1439.3 1389.1L1442.1 1390.0L1445.0 1390.9L1447.8 1391.9L1450.7 1392.8L1453.5 1393.7L1456.4 1394.6L1459.3 1395.5L1461.5 1396.2M1492.2 1404.9L1495.1 1405.7L1497.7 1406.4M1523.0 1412.6L1525.9 1413.3L1528.5 1413.9M1554.9 1419.8L1557.9 1420.4L1560.8 1421.0L1563.8 1421.6L1566.7 1422.2L1569.6 1422.8L1572.6 1423.4L1575.5 1424.0L1578.5 1424.6L1581.4 1425.2L1583.7 1425.6M1609.0 1430.4L1612.0 1431.0L1614.6 1431.5M1639.1 1435.9L1642.1 1436.5L1644.7 1436.9M1670.1 1441.4L1673.0 1442.0L1676.0 1442.5L1679.0 1443.0L1681.9 1443.5L1684.9 1444.0L1687.8 1444.5L1690.8 1445.1L1693.7 1445.6L1696.7 1446.1L1699.0 1446.5M1723.0 1450.6L1726.0 1451.1L1728.7 1451.5M1754.3 1455.8L1757.3 1456.3L1760.0 1456.8M1785.3 1460.9L1788.2 1461.4L1791.2 1461.9L1794.2 1462.3L1797.1 1462.8L1800.1 1463.3L1803.0 1463.8L1806.0 1464.2L1809.0 1464.7L1811.9 1465.2L1814.2 1465.5M1842.1 1469.8L1845.0 1470.3L1847.7 1470.7M1872.2 1474.4L1875.2 1474.8L1877.8 1475.2M1903.3 1478.9L1906.2 1479.3L1909.2 1479.7L1912.2 1480.2L1915.1 1480.6L1918.1 1481.0L1921.1 1481.4L1924.1 1481.9L1927.0 1482.3L1930.0 1482.7L1932.3 1483.0M1956.5 1486.3L1959.5 1486.8L1962.1 1487.1M1988.0 1490.6L1991.0 1491.0L1993.7 1491.3M2020.4 1494.8L2023.4 1495.2L2026.4 1495.6L2029.4 1496.0L2032.3 1496.3L2035.3 1496.7L2038.3 1497.1L2041.3 1497.5L2044.2 1497.8L2047.2 1498.2L2049.5 1498.5M2074.7 1501.6L2077.7 1502.0L2080.4 1502.3M2106.3 1505.5L2109.3 1505.8L2111.9 1506.1M2137.6 1509.1L2140.5 1509.5L2143.5 1509.8L2146.5 1510.2L2149.5 1510.5L2152.5 1510.9L2155.4 1511.2L2158.4 1511.6L2161.4 1511.9L2164.4 1512.2L2166.7 1512.5M2191.9 1515.4L2194.9 1515.7L2197.6 1516.0M2223.5 1518.9L2226.5 1519.2L2229.2 1519.5M2254.8 1522.3L2257.8 1522.6L2260.8 1522.9L2263.8 1523.3L2266.8 1523.6L2269.7 1523.9L2272.7 1524.2L2275.7 1524.5L2278.7 1524.9L2281.7 1525.2L2284.0 1525.4M2309.2 1528.1L2312.2 1528.4L2314.9 1528.7M2340.9 1531.4L2343.8 1531.7L2346.5 1532.0M2372.2 1534.6L2375.2 1534.9L2378.2 1535.2L2379.9 1535.4" stroke="#008000"/>
<path d="M364.7 417.5L364.7 420.5L364.8 423.5L364.8 426.5L364.8 429.5L364.8 430.0M364.8 452.7L364.8 455.7L364.8 458.7L364.8 461.7L364.8 464.7L364.8 465.2M364.8 487.8L364.9 490.8L364.9 493.8L364.9 496.8L364.9 499.8L364.9 500.3M365.0 523.0L365.0 526.0L365.0 529.0L365.0 532.0L365.0 535.0L365.0 535.5M365.1 559.5L365.1 562.5L365.2 565.5L365.2 568.5L365.2 571.5L365.2 572.0M365.4 594.7L365.4 597.7L365.4 600.7L365.4 603.7L365.4 606.7L365.5 607.2M365.7 629.9L365.7 632.9L365.7 635.9L365.7 638.9L365.8 641.9L365.8 642.4M366.0 665.0L366.1 668.0L366.1 671.0L366.1 674.0L366.2 677.0L366.2 677.5M366.5 700.2L366.5 703.2L366.6 706.2L366.6 709.2L366.7 712.2L366.7 712.7M367.1 735.3L367.1 738.3L367.2 741.3L367.2 744.3L367.3 747.3L367.3 747.8M367.7 770.5L367.8 773.5L367.9 776.5L367.9 779.5L368.0 782.5L368.0 783.0M368.5 805.7L368.6 808.7L368.7 811.7L368.7 814.7L368.8 817.6L368.8 818.1M369.4 840.8L369.5 843.8L369.6 846.8L369.7 849.8L369.8 852.8L369.8 853.3M370.5 875.9L370.5 878.9L370.6 881.9L370.7 884.9L370.8 887.9L370.9 888.4M371.7 912.4L371.8 915.4L371.9 918.4L372.0 921.4L372.1 924.4L372.1 924.9M373.0 947.5L373.1 950.5L373.3 953.5L373.4 956.5L373.5 959.5L373.5 960.0M374.5 982.6L374.6 985.6L374.8 988.6L374.9 991.6L375.1 994.6L375.1 995.1M376.2 1017.8L376.3 1020.8L376.5 1023.8L376.6 1026.8L376.8 1029.8L376.8 1030.3M378.0 1052.9L378.2 1055.9L378.3 1058.9L378.5 1061.9L378.7 1064.9L378.7 1065.4M380.0 1088.0L380.2 1091.0L380.4 1094.0L380.6 1097.0L380.8 1100.0L380.8 1100.5M382.2 1121.8L382.4 1124.8L382.6 1127.8L382.8 1130.8L383.0 1133.8L383.0 1134.3M384.6 1156.9L384.8 1159.9L385.0 1162.9L385.2 1165.9L385.4 1168.9L385.5 1169.4M387.3 1193.3L387.5 1196.3L387.8 1199.3L388.0 1202.3L388.2 1205.3L388.3 1205.8M390.2 1227.1L390.6 1230.1L390.9 1233.1L391.3 1236.0L391.7 1239.0L391.7 1239.5M395.6 1261.9L396.2 1264.8L396.9 1267.7L397.6 1270.6L398.4 1273.5L398.5 1274.0M405.5 1294.9L406.6 1297.6L407.8 1300.4L409.0 1303.1L410.3 1305.8L410.5 1306.3M429.0 1321.8L432.0 1321.9L434.9 1321.6L437.9 1321.0L440.7 1320.0L441.2 1319.8M456.0 1308.9L458.0 1306.6L459.8 1304.2L461.5 1301.7L463.1 1299.2L463.4 1298.8M473.9 1276.0L475.0 1273.2L476.1 1270.4L477.1 1267.6L478.3 1264.8L478.4 1264.4M487.1 1243.1L488.2 1240.3L489.4 1237.5L490.5 1234.8L491.7 1232.0L491.9 1231.5M500.7 1209.9L501.8 1207.1L503.0 1204.3L504.1 1201.5L505.1 1198.7L505.3 1198.3M513.3 1177.3L514.3 1174.5L515.3 1171.7L516.3 1168.8L517.3 1166.0L517.5 1165.6M524.6 1145.3L525.5 1142.4L526.5 1139.6L527.4 1136.7L528.4 1133.9L528.5 1133.4M535.6 1111.6L536.5 1108.8L537.4 1105.9L538.3 1103.0L539.2 1100.2L539.3 1099.7M546.3 1076.7L547.2 1073.8L548.0 1070.9L548.9 1068.0L549.7 1065.1L549.8 1064.7M555.7 1044.1L556.5 1041.2L557.4 1038.4L558.2 1035.5L559.0 1032.6L559.1 1032.1M565.1 1010.3L565.9 1007.4L566.7 1004.5L567.5 1001.7L568.3 998.8L568.4 998.3M574.3 976.5L575.1 973.6L575.8 970.7L576.6 967.8L577.4 964.9L577.5 964.4M583.0 943.9L583.8 941.0L584.5 938.1L585.3 935.2L586.1 932.3L586.2 931.8M592.1 909.9L592.9 907.0L593.7 904.2L594.5 901.3L595.2 898.4L595.4 897.9M601.4 876.0L602.2 873.1L603.0 870.2L603.8 867.3L604.6 864.4L604.7 863.9M611.1 840.7L611.9 837.8L612.7 834.9L613.5 832.0L614.3 829.2L614.4 828.7M620.8 805.4L621.6 802.5L622.4 799.6L623.2 796.8L623.9 793.9L624.1 793.4M629.6 772.6L630.4 769.7L631.1 766.8L631.9 763.9L632.7 761.0L632.8 760.6M638.8 737.3L639.5 734.4L640.2 731.5L640.9 728.6L641.7 725.7L641.8 725.2M648.0 699.4L648.7 696.5L649.3 693.6L650.0 690.6L650.7 687.7L650.8 687.2M656.1 662.7L656.8 659.8L657.4 656.9L658.0 653.9L658.6 651.0L658.7 650.5M663.4 627.3L664.1 624.4L664.7 621.4L665.4 618.5L666.0 615.6L666.1 615.1M671.4 594.4L672.2 591.5L673.1 588.6L674.0 585.8L674.9 582.9L675.0 582.4M682.3 562.8L683.4 560.0L684.6 557.3L685.9 554.5L687.2 551.8L687.4 551.4M698.9 532.6L700.9 530.4L703.1 528.3L705.4 526.4L707.8 524.6L708.2 524.3M730.5 520.5L733.4 521.2L736.2 522.2L738.9 523.4L741.6 524.8L742.0 525.0M759.4 538.2L761.6 540.3L763.7 542.4L765.8 544.6L767.9 546.7L768.2 547.1M781.8 563.4L783.7 565.8L785.5 568.2L787.3 570.6L789.0 573.0L789.3 573.4M803.4 593.8L805.1 596.3L806.7 598.8L808.3 601.4L809.9 603.9L810.2 604.3M821.7 623.9L823.2 626.5L824.6 629.1L826.1 631.8L827.5 634.4L827.7 634.8M835.7 650.5L837.0 653.2L838.2 656.0L839.5 658.7L840.7 661.4L841.0 661.9M850.4 683.9L851.5 686.7L852.7 689.5L853.8 692.3L854.9 695.1L855.1 695.5M863.5 716.5L864.6 719.3L865.8 722.1L866.9 724.9L868.0 727.6L868.2 728.1M877.2 748.7L878.5 751.5L879.8 754.2L881.1 756.9L882.4 759.6L882.6 760.0M892.5 778.9L893.9 781.5L895.4 784.1L896.8 786.7L898.3 789.4L898.5 789.8M911.3 811.6L912.8 814.2L914.3 816.8L915.9 819.3L917.4 821.9L917.7 822.3M928.0 839.6L929.5 842.2L931.0 844.8L932.5 847.3L934.1 849.9L934.3 850.4M944.3 867.7L945.7 870.3L947.2 873.0L948.7 875.6L950.1 878.2L950.4 878.6M961.9 899.6L963.3 902.2L964.8 904.8L966.2 907.5L967.6 910.1L967.8 910.6M976.7 927.0L978.1 929.7L979.5 932.3L980.9 935.0L982.3 937.6L982.5 938.1M993.7 959.2L995.1 961.9L996.5 964.5L997.9 967.2L999.3 969.9L999.5 970.3M1009.5 989.2L1010.9 991.8L1012.3 994.5L1013.7 997.1L1015.1 999.8L1015.4 1000.2M1026.3 1020.2L1027.7 1022.8L1029.2 1025.4L1030.7 1028.0L1032.1 1030.6L1032.4 1031.0M1043.8 1050.7L1045.3 1053.2L1046.9 1055.8L1048.5 1058.4L1050.0 1060.9L1050.3 1061.3M1059.6 1076.1L1061.3 1078.6L1062.9 1081.1L1064.6 1083.6L1066.3 1086.1L1066.5 1086.5M1078.7 1104.1L1080.4 1106.6L1082.2 1109.0L1084.0 1111.4L1085.7 1113.8L1086.0 1114.2M1099.0 1131.2L1100.8 1133.5L1102.7 1135.9L1104.6 1138.2L1106.5 1140.5L1106.8 1140.9M1118.8 1155.2L1120.8 1157.5L1122.8 1159.7L1124.8 1162.0L1126.8 1164.2L1127.1 1164.6M1142.5 1181.0L1144.6 1183.1L1146.7 1185.3L1148.8 1187.4L1151.0 1189.5L1151.3 1189.8M1167.7 1205.3L1169.9 1207.3L1172.1 1209.3L1174.4 1211.3L1176.7 1213.3L1177.0 1213.6M1194.4 1228.1L1196.7 1230.0L1199.0 1231.9L1201.4 1233.7L1203.7 1235.6L1204.1 1235.9M1223.2 1250.5L1225.6 1252.3L1228.0 1254.1L1230.4 1255.9L1232.9 1257.7L1233.3 1258.0M1248.5 1269.1L1250.9 1270.9L1253.4 1272.6L1255.8 1274.4L1258.2 1276.2L1258.6 1276.5M1276.1 1289.1L1278.6 1290.8L1281.0 1292.5L1283.5 1294.2L1285.9 1296.0L1286.4 1296.3M1305.2 1309.1L1307.7 1310.8L1310.2 1312.4L1312.7 1314.1L1315.2 1315.7L1315.6 1315.9M1333.8 1327.2L1336.4 1328.7L1339.0 1330.2L1341.6 1331.7L1344.2 1333.2L1344.6 1333.4M1362.2 1342.8L1364.8 1344.2L1367.5 1345.5L1370.2 1346.9L1372.9 1348.2L1373.4 1348.4M1395.0 1358.4L1397.7 1359.6L1400.5 1360.8L1403.2 1362.0L1406.0 1363.1L1406.5 1363.3M1427.4 1371.7L1430.2 1372.7L1433.0 1373.8L1435.8 1374.8L1438.6 1375.8L1439.1 1376.0M1460.5 1383.5L1463.3 1384.4L1466.2 1385.4L1469.0 1386.3L1471.9 1387.2L1472.3 1387.4M1494.0 1394.1L1496.9 1395.0L1499.8 1395.8L1502.7 1396.7L1505.5 1397.5L1506.0 1397.6M1527.9 1403.8L1530.8 1404.6L1533.7 1405.4L1536.6 1406.2L1539.5 1407.0L1539.9 1407.1M1561.9 1412.8L1564.8 1413.6L1567.7 1414.3L1570.6 1415.1L1573.5 1415.8L1574.0 1415.9M1596.1 1421.3L1599.0 1422.0L1601.9 1422.7L1604.8 1423.4L1607.7 1424.1L1608.2 1424.2M1631.6 1429.5L1634.5 1430.1L1637.4 1430.8L1640.4 1431.4L1643.3 1432.1L1643.8 1432.2M1666.0 1436.9L1668.9 1437.5L1671.8 1438.1L1674.8 1438.7L1677.7 1439.3L1678.2 1439.4M1700.4 1443.9L1703.4 1444.4L1706.3 1445.0L1709.2 1445.6L1712.2 1446.1L1712.7 1446.2M1734.9 1450.4L1737.9 1450.9L1740.9 1451.5L1743.8 1452.0L1746.8 1452.6L1747.2 1452.6M1769.6 1456.6L1772.5 1457.1L1775.5 1457.6L1778.4 1458.1L1781.4 1458.6L1781.9 1458.7M1805.5 1462.6L1808.5 1463.1L1811.4 1463.6L1814.4 1464.1L1817.4 1464.6L1817.9 1464.6M1841.5 1468.4L1844.5 1468.9L1847.5 1469.3L1850.4 1469.8L1853.4 1470.2L1853.9 1470.3M1873.7 1473.3L1876.7 1473.8L1879.7 1474.2L1882.6 1474.6L1885.6 1475.1L1886.1 1475.1M1909.8 1478.6L1912.8 1479.0L1915.8 1479.5L1918.7 1479.9L1921.7 1480.3L1922.2 1480.4M1946.0 1483.7L1948.9 1484.2L1951.9 1484.6L1954.9 1485.0L1957.8 1485.4L1958.3 1485.5M1980.8 1488.6L1983.8 1489.0L1986.7 1489.4L1989.7 1489.8L1992.7 1490.2L1993.2 1490.3M2015.6 1493.3L2018.6 1493.7L2021.6 1494.1L2024.6 1494.5L2027.5 1494.9L2028.0 1495.0M2050.5 1498.0L2053.5 1498.4L2056.4 1498.8L2059.4 1499.2L2062.4 1499.6L2062.9 1499.6M2085.4 1502.6L2088.3 1503.0L2091.3 1503.4L2094.3 1503.7L2097.3 1504.1L2097.8 1504.2M2120.2 1507.1L2123.2 1507.5L2126.2 1507.9L2129.2 1508.2L2132.1 1508.6L2132.6 1508.7M2156.4 1511.7L2159.4 1512.0L2162.4 1512.4L2165.3 1512.8L2168.3 1513.2L2168.8 1513.2M2191.3 1516.0L2194.3 1516.4L2197.3 1516.7L2200.2 1517.1L2203.2 1517.4L2203.7 1517.5M2226.2 1520.2L2229.2 1520.6L2232.2 1520.9L2235.1 1521.3L2238.1 1521.6L2238.6 1521.7M2261.1 1524.3L2264.1 1524.7L2267.1 1525.0L2270.1 1525.4L2273.1 1525.7L2273.6 1525.8M2296.1 1528.3L2299.1 1528.7L2302.0 1529.0L2305.0 1529.3L2308.0 1529.7L2308.5 1529.7M2331.0 1532.2L2334.0 1532.5L2337.0 1532.8L2340.0 1533.2L2343.0 1533.5L2343.5 1533.5M2366.2 1536.0L2369.2 1536.3L2372.2 1536.6L2375.2 1536.9L2378.2 1537.2L2378.7 1537.3" stroke="#000080"/>
</g>
<g font-family="'Liberation Serif','Times New Roman',serif" font-weight="bold" font-size="70" fill="#000">
<text x="585.2" y="1766.4" text-anchor="middle">20</text>
<text x="836.5" y="1766.4" text-anchor="middle">40</text>
<text x="1087.7" y="1766.4" text-anchor="middle">60</text>
<text x="1339.0" y="1766.4" text-anchor="middle">80</text>
<text x="1590.3" y="1766.4" text-anchor="middle">100</text>
<text x="1841.6" y="1766.4" text-anchor="middle">120</text>
<text x="2092.9" y="1766.4" text-anchor="middle">140</text>
<text x="2344.1" y="1766.4" text-anchor="middle">160</text>
<text x="310.3" y="1396.6" text-anchor="end">0.2</text>
<text x="310.3" y="1101.8" text-anchor="end">0.4</text>
<text x="310.3" y="807.0" text-anchor="end">0.6</text>
<text x="310.3" y="512.2" text-anchor="end">0.8</text>
<text x="310.3" y="217.4" text-anchor="end">1.0</text>
</g>
<text font-family="'Liberation Serif','Times New Roman',serif" font-weight="bold" font-size="84" x="1403.5" y="1895.4" text-anchor="middle">time/h</text>
<text font-family="'Liberation Serif','Times New Roman',serif" font-weight="bold" font-size="84" transform="translate(130.7,1135.5) rotate(-90)" dx="0 -1.6 -1.6 -1.6 -1.6 -1.6 -1.6 -1.6 -1.6 0 0 6.5 3.5 3 0">Heat flow(mW/g)</text>
<path d="M1759.8 142.4H1947.8" stroke="#000000" stroke-width="9.5" stroke-linecap="round" fill="none"/>
<text font-family="'Liberation Serif','Times New Roman',serif" font-weight="bold" font-size="78" letter-spacing="-1.2" x="1967" y="171.3">SF=0</text>
<path d="M1759.8 247.7H1947.8" stroke="#ff0000" stroke-width="9.5" stroke-linecap="round" fill="none" stroke-dasharray="32.80 45.10"/>
<text font-family="'Liberation Serif','Times New Roman',serif" font-weight="bold" font-size="78" letter-spacing="-1.2" x="1967" y="276.6">SF=2%</text>
<path d="M1759.8 353.0H1947.8" stroke="#0000ff" stroke-width="9.5" stroke-linecap="round" fill="none" stroke-dasharray="5.40 40.90"/>
<text font-family="'Liberation Serif','Times New Roman',serif" font-weight="bold" font-size="78" letter-spacing="-1.2" x="1967" y="381.9">SF=5%</text>
<path d="M1759.8 458.3H1947.8" stroke="#ff00ff" stroke-width="9.5" stroke-linecap="round" fill="none" stroke-dasharray="40.30 25.70 5.90 25.90"/>
<text font-family="'Liberation Serif','Times New Roman',serif" font-weight="bold" font-size="78" letter-spacing="-1.2" x="1967" y="487.2">SF=8%</text>
<path d="M1759.8 563.6H1947.8" stroke="#008000" stroke-width="9.5" stroke-linecap="round" fill="none" stroke-dasharray="29.50 25.20 5.90 25.90 5.90 25.60"/>
<text font-family="'Liberation Serif','Times New Roman',serif" font-weight="bold" font-size="78" letter-spacing="-1.2" x="1967" y="592.5">SF=10%</text>
<path d="M1759.8 668.9H1947.8" stroke="#000080" stroke-width="9.5" stroke-linecap="round" fill="none" stroke-dasharray="12.70 22.70"/>
<text font-family="'Liberation Serif','Times New Roman',serif" font-weight="bold" font-size="78" letter-spacing="-1.2" x="1967" y="697.8">SF=12%</text>
</svg>
</body></html>
